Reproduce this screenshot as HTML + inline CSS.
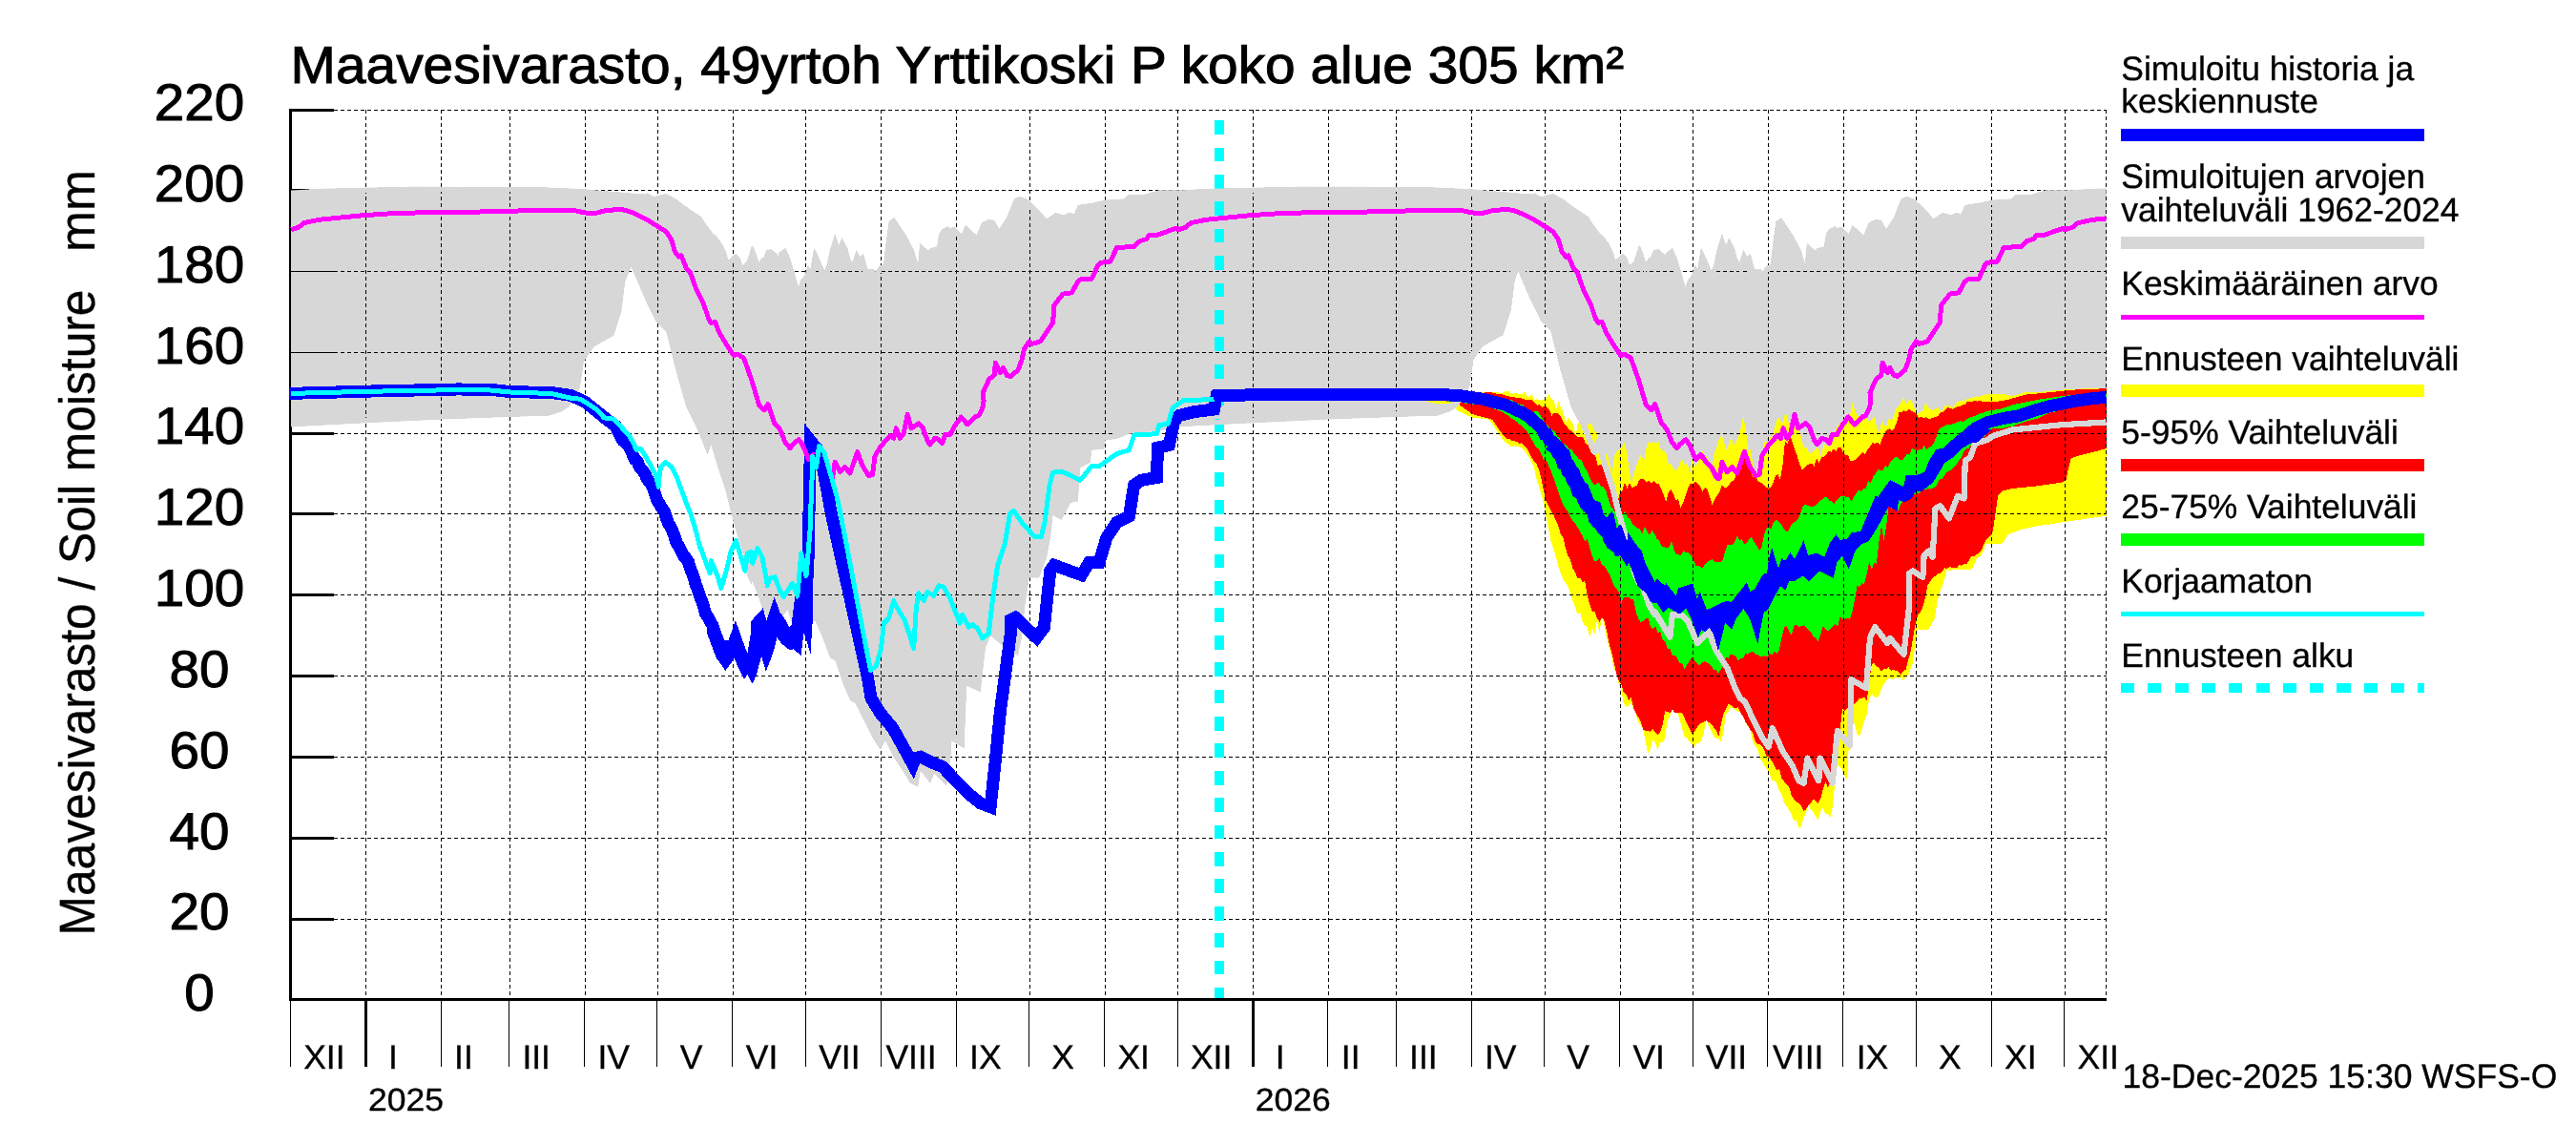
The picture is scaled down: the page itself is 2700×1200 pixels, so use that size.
<!DOCTYPE html>
<html><head><meta charset="utf-8"><title>Maavesivarasto</title>
<style>html,body{margin:0;padding:0;background:#fff;}body{width:2700px;height:1200px;position:relative;overflow:hidden;font-family:"Liberation Sans",sans-serif;}</style></head>
<body>
<svg width="2700" height="1200" viewBox="0 0 2700 1200" style="position:absolute;left:0;top:0;font-family:'Liberation Sans',sans-serif">
<rect width="2700" height="1200" fill="#fff"/>
<g stroke="#000" stroke-width="3" shape-rendering="crispEdges" fill="none">
<path d="M304.5,114 V1049"/>
<path d="M303,1047.5 H2208.1"/>
<path d="M304.5,963.5 H350"/>
<path d="M304.5,878.5 H350"/>
<path d="M304.5,793.5 H350"/>
<path d="M304.5,708.5 H350"/>
<path d="M304.5,623.5 H350"/>
<path d="M304.5,538.5 H350"/>
<path d="M304.5,454.5 H350"/>
<path d="M304.5,369.5 H350"/>
<path d="M304.5,284.5 H350"/>
<path d="M304.5,199.5 H350"/>
<path d="M304.5,115.5 H350"/>
</g>
<g shape-rendering="crispEdges" stroke="none">
<path fill="#d7d7d7" d="M305.0,199.4 L339.3,197.8 L431.0,195.7 L562.1,196.0 L611.8,198.3 L666.9,203.1 L677.4,203.6 L678.7,202.3 L685.2,206.2 L698.3,203.1 L708.8,208.8 L719.3,216.7 L735.0,227.2 L740.0,235.1 L747.9,245.5 L750.5,247.1 L756.8,255.5 L761.0,264.4 L763.1,271.7 L764.6,271.7 L768.3,268.1 L771.4,266.0 L775.6,270.2 L778.2,278.0 L783.0,273.8 L788.2,257.1 L790.3,260.2 L795.5,274.9 L798.7,270.2 L800.3,270.2 L803.4,262.1 L808.6,261.3 L814.9,266.5 L815.4,269.1 L816.5,264.9 L823.3,260.0 L828.0,270.7 L832.2,284.3 L836.9,301.1 L839.5,293.2 L843.2,289.0 L846.9,278.0 L849.5,282.2 L853.2,260.0 L855.3,263.4 L864.2,283.8 L866.8,277.0 L869.9,262.3 L875.2,245.0 L879.4,257.1 L882.5,249.2 L888.3,260.2 L890.9,270.7 L893.5,274.9 L897.7,262.1 L901.4,269.1 L905.0,266.0 L909.2,281.7 L916.0,282.2 L917.6,284.8 L921.3,279.1 L926.0,277.0 L928.6,255.0 L931.8,231.9 L937.5,228.2 L943.3,237.2 L949.6,246.6 L958.0,262.3 L962.2,277.0 L964.2,255.0 L973.2,262.8 L974.7,260.2 L982.1,258.6 L984.2,245.5 L987.3,240.3 L993.6,237.2 L995.7,239.3 L1000.0,237.7 L1008.0,245.2 L1011.9,236.0 L1023.7,246.5 L1029.0,233.4 L1035.5,230.2 L1042.1,230.8 L1047.3,239.9 L1055.2,228.1 L1063.0,208.5 L1068.3,205.9 L1076.1,208.5 L1086.6,217.7 L1097.1,229.4 L1106.3,222.9 L1115.4,225.5 L1120.7,222.9 L1125.9,224.2 L1129.8,215.0 L1146.9,212.4 L1157.4,209.8 L1178.3,208.5 L1182.3,204.5 L1199.3,204.0 L1215.0,199.3 L1234.7,199.3 L1234.7,199.4 L1269.0,197.8 L1360.7,195.7 L1491.8,196.0 L1541.5,198.3 L1596.6,203.1 L1607.1,203.6 L1608.4,202.3 L1614.9,206.2 L1628.0,203.1 L1638.5,208.8 L1649.0,216.7 L1664.7,227.2 L1669.7,235.1 L1677.6,245.5 L1680.2,247.1 L1686.5,255.5 L1690.7,264.4 L1692.8,271.7 L1694.3,271.7 L1698.0,268.1 L1701.1,266.0 L1705.3,270.2 L1707.9,278.0 L1712.7,273.8 L1717.9,257.1 L1720.0,260.2 L1725.2,274.9 L1728.4,270.2 L1730.0,270.2 L1733.1,262.1 L1738.3,261.3 L1744.6,266.5 L1745.1,269.1 L1746.2,264.9 L1753.0,260.0 L1757.7,270.7 L1761.9,284.3 L1766.6,301.1 L1769.2,293.2 L1772.9,289.0 L1776.6,278.0 L1779.2,282.2 L1782.9,260.0 L1785.0,263.4 L1793.9,283.8 L1796.5,277.0 L1799.6,262.3 L1804.9,245.0 L1809.1,257.1 L1812.2,249.2 L1818.0,260.2 L1820.6,270.7 L1823.2,274.9 L1827.4,262.1 L1831.1,269.1 L1834.7,266.0 L1838.9,281.7 L1845.7,282.2 L1847.3,284.8 L1851.0,279.1 L1855.7,277.0 L1858.3,255.0 L1861.5,231.9 L1867.2,228.2 L1873.0,237.2 L1879.3,246.6 L1887.7,262.3 L1891.9,277.0 L1893.9,255.0 L1902.9,262.8 L1904.4,260.2 L1911.8,258.6 L1913.9,245.5 L1917.0,240.3 L1923.3,237.2 L1925.4,239.3 L1929.7,237.7 L1937.7,245.2 L1941.6,236.0 L1953.4,246.5 L1958.7,233.4 L1965.2,230.2 L1971.8,230.8 L1977.0,239.9 L1984.9,228.1 L1992.7,208.5 L1998.0,205.9 L2005.8,208.5 L2016.3,217.7 L2026.8,229.4 L2036.0,222.9 L2045.1,225.5 L2050.4,222.9 L2055.6,224.2 L2059.5,215.0 L2076.6,212.4 L2087.1,209.8 L2108.0,208.5 L2112.0,204.5 L2129.0,204.0 L2144.7,199.3 L2164.4,199.3 L2164.4,199.4 L2198.7,197.8 L2207.6,197.6 L2207.6,445.0 L2164.4,447.3 L2164.4,448.1 L2139.3,452.1 L2113.1,454.7 L2100.0,459.9 L2088.2,461.2 L2086.9,470.4 L2073.8,471.7 L2072.5,484.8 L2062.0,490.1 L2059.4,525.4 L2051.6,526.8 L2042.4,545.1 L2033.2,539.9 L2030.6,563.4 L2026.7,584.4 L2018.8,605.4 L2008.3,605.4 L2004.4,631.6 L2000.5,668.3 L1996.6,687.2 L1980.9,676.7 L1967.8,666.2 L1962.5,679.3 L1957.3,725.2 L1942.9,718.6 L1940.2,784.1 L1927.1,776.3 L1925.8,797.2 L1921.9,823.4 L1908.8,810.3 L1904.9,820.8 L1894.4,807.7 L1891.8,824.7 L1883.9,820.8 L1876.0,807.7 L1865.5,792.0 L1857.7,776.3 L1852.4,785.4 L1844.6,773.6 L1834.1,752.7 L1826.2,737.0 L1821.0,734.3 L1813.1,716.0 L1805.3,692.4 L1800.0,689.8 L1792.2,668.8 L1784.3,650.5 L1781.3,650.6 L1759.0,650.6 L1755.1,638.8 L1747.2,650.6 L1739.3,655.8 L1728.9,637.5 L1718.4,608.7 L1717.1,612.6 L1713.1,603.4 L1707.9,577.2 L1702.7,561.5 L1697.4,543.2 L1689.6,511.7 L1681.7,488.1 L1675.1,465.9 L1671.2,476.3 L1659.5,447.3 L1649.0,426.3 L1638.5,389.6 L1628.0,347.7 L1617.5,337.2 L1607.1,316.3 L1591.3,279.6 L1584.8,295.3 L1580.9,326.8 L1573.0,351.6 L1552.0,363.4 L1541.5,379.2 L1537.6,405.4 L1533.7,415.8 L1525.8,426.3 L1518.0,431.6 L1504.9,435.5 L1465.5,436.8 L1392.2,439.4 L1308.3,443.4 L1234.7,447.3 L1234.7,448.1 L1209.6,452.1 L1183.4,454.7 L1170.3,459.9 L1158.5,461.2 L1157.2,470.4 L1144.1,471.7 L1142.8,484.8 L1132.3,490.1 L1129.7,525.4 L1121.9,526.8 L1112.7,545.1 L1103.5,539.9 L1100.9,563.4 L1097.0,584.4 L1089.1,605.4 L1078.6,605.4 L1074.7,631.6 L1070.8,668.3 L1066.9,687.2 L1051.2,676.7 L1038.1,666.2 L1032.8,679.3 L1027.6,725.2 L1013.2,718.6 L1010.5,784.1 L997.4,776.3 L996.1,797.2 L992.2,823.4 L979.1,810.3 L975.2,820.8 L964.7,807.7 L962.1,824.7 L954.2,820.8 L946.3,807.7 L935.8,792.0 L928.0,776.3 L922.7,785.4 L914.9,773.6 L904.4,752.7 L896.5,737.0 L891.3,734.3 L883.4,716.0 L875.6,692.4 L870.3,689.8 L862.5,668.8 L854.6,650.5 L851.6,650.6 L829.3,650.6 L825.4,638.8 L817.5,650.6 L809.6,655.8 L799.2,637.5 L788.7,608.7 L787.4,612.6 L783.4,603.4 L778.2,577.2 L773.0,561.5 L767.7,543.2 L759.9,511.7 L752.0,488.1 L745.4,465.9 L741.5,476.3 L729.8,447.3 L719.3,426.3 L708.8,389.6 L698.3,347.7 L687.8,337.2 L677.4,316.3 L661.6,279.6 L655.1,295.3 L651.2,326.8 L643.3,351.6 L622.3,363.4 L611.8,379.2 L607.9,405.4 L604.0,415.8 L596.1,426.3 L588.3,431.6 L575.2,435.5 L535.8,436.8 L462.5,439.4 L378.6,443.4 L305.0,447.3Z"/>
<path fill="#ffff00" d="M1455.0,413.2 L1554.7,411.2 L1557.2,411.2 L1559.8,411.2 L1562.3,411.2 L1564.9,411.2 L1567.4,411.1 L1570.0,411.1 L1572.5,412.3 L1575.1,411.4 L1577.6,410.4 L1580.2,409.7 L1582.7,411.2 L1585.2,412.7 L1587.8,412.2 L1590.3,412.0 L1592.9,413.5 L1595.4,413.4 L1598.0,410.6 L1600.5,415.0 L1603.1,415.8 L1605.6,412.7 L1608.2,419.1 L1610.7,418.4 L1613.3,418.9 L1615.8,419.4 L1618.4,419.0 L1620.9,417.3 L1623.5,413.1 L1626.0,418.2 L1628.5,418.9 L1631.1,429.6 L1633.6,421.1 L1636.2,427.5 L1638.7,433.1 L1641.3,442.4 L1643.8,437.2 L1646.4,440.7 L1648.9,444.2 L1651.5,456.3 L1654.0,442.3 L1656.6,443.4 L1659.1,453.0 L1661.7,456.4 L1664.2,445.3 L1666.8,443.5 L1669.3,446.2 L1671.8,453.1 L1674.4,453.6 L1676.9,479.0 L1679.5,481.7 L1682.0,477.0 L1684.6,475.6 L1687.1,485.3 L1689.7,495.5 L1692.2,477.7 L1694.8,472.2 L1697.3,471.4 L1699.9,469.0 L1702.4,463.3 L1705.0,472.8 L1707.5,491.0 L1710.0,506.9 L1712.6,495.4 L1715.1,487.8 L1717.7,481.2 L1720.2,475.1 L1722.8,485.0 L1725.3,470.9 L1727.9,462.7 L1730.4,464.5 L1733.0,463.1 L1735.5,465.2 L1738.1,461.7 L1740.6,470.5 L1743.2,472.7 L1745.7,472.4 L1748.3,484.9 L1750.8,486.2 L1753.3,488.5 L1755.9,493.4 L1758.4,491.5 L1761.0,484.5 L1763.5,481.6 L1766.1,488.4 L1768.6,484.0 L1771.2,497.1 L1773.7,480.6 L1776.3,489.6 L1778.8,485.9 L1781.4,476.2 L1783.9,471.6 L1786.5,476.9 L1789.0,478.4 L1791.6,482.2 L1794.1,493.9 L1796.6,475.2 L1799.2,469.0 L1801.7,460.6 L1804.3,454.8 L1806.8,462.9 L1809.4,470.8 L1811.9,466.0 L1814.5,457.6 L1817.0,466.5 L1819.6,464.1 L1822.1,456.9 L1824.7,448.5 L1827.2,435.7 L1829.8,449.8 L1832.3,471.6 L1834.9,470.5 L1837.4,487.2 L1839.9,494.3 L1842.5,499.8 L1845.0,478.6 L1847.6,473.5 L1850.1,459.9 L1852.7,465.5 L1855.2,458.0 L1857.8,458.1 L1860.3,446.6 L1862.9,439.0 L1865.4,437.5 L1868.0,444.8 L1870.5,435.1 L1873.1,434.6 L1875.6,447.1 L1878.2,436.8 L1880.7,443.0 L1883.2,436.4 L1885.8,449.3 L1888.3,461.1 L1890.9,468.6 L1893.4,468.3 L1896.0,473.7 L1898.5,475.4 L1901.1,472.5 L1903.6,469.0 L1906.2,470.0 L1908.7,478.8 L1911.3,466.3 L1913.8,466.7 L1916.4,468.3 L1918.9,455.6 L1921.5,458.4 L1924.0,450.4 L1926.5,445.8 L1929.1,442.7 L1931.6,444.8 L1934.2,439.1 L1936.7,435.6 L1939.3,433.7 L1941.8,420.9 L1944.4,431.2 L1946.9,435.7 L1949.5,435.5 L1952.0,436.5 L1954.6,437.0 L1957.1,438.9 L1959.7,442.4 L1962.2,439.7 L1964.7,436.4 L1967.3,448.1 L1969.8,453.8 L1972.4,441.1 L1974.9,446.3 L1977.5,445.6 L1980.0,436.8 L1982.6,441.9 L1985.1,434.7 L1987.7,427.9 L1990.2,425.7 L1992.8,421.7 L1995.3,415.9 L1997.9,424.6 L2000.4,419.7 L2003.0,418.9 L2005.5,424.2 L2008.0,430.5 L2010.6,433.3 L2013.1,431.6 L2015.7,430.1 L2018.2,422.2 L2020.8,426.5 L2023.3,429.2 L2025.9,429.6 L2028.4,429.0 L2031.0,426.2 L2033.5,430.7 L2036.1,430.0 L2038.6,425.0 L2041.2,425.2 L2043.7,425.2 L2046.3,426.7 L2048.8,424.6 L2051.3,420.8 L2053.9,420.5 L2056.4,420.0 L2059.0,420.2 L2061.5,418.1 L2064.1,417.7 L2066.6,417.2 L2069.2,416.0 L2071.7,415.1 L2074.3,415.7 L2076.8,414.7 L2079.4,414.0 L2081.9,413.5 L2084.5,413.3 L2087.0,413.4 L2089.6,412.9 L2092.1,412.8 L2094.6,412.5 L2097.2,412.5 L2099.7,413.0 L2102.3,413.6 L2104.8,414.1 L2107.4,414.6 L2109.9,414.9 L2112.5,414.1 L2115.0,413.4 L2117.6,412.6 L2120.1,411.8 L2122.7,411.1 L2125.2,411.1 L2127.8,411.1 L2130.3,411.1 L2132.9,411.1 L2135.4,411.1 L2137.9,410.9 L2140.5,410.6 L2143.0,410.4 L2145.6,410.1 L2148.1,409.8 L2150.7,409.6 L2153.2,409.3 L2155.8,409.1 L2158.3,408.8 L2160.9,408.6 L2163.4,408.4 L2166.0,408.3 L2168.5,408.1 L2171.1,408.0 L2173.6,407.9 L2176.2,407.8 L2178.7,407.6 L2181.2,407.5 L2183.8,407.4 L2186.3,407.2 L2188.9,407.1 L2191.4,407.1 L2194.0,407.0 L2196.5,406.9 L2199.1,406.9 L2201.6,406.8 L2204.2,406.7 L2206.7,406.6 L2207.5,406.6 L2207.5,540.7 L2206.1,540.9 L2203.6,541.3 L2201.0,541.6 L2198.5,542.0 L2195.9,542.3 L2193.4,542.7 L2190.8,543.0 L2188.3,543.3 L2185.7,543.7 L2183.2,544.1 L2180.7,544.5 L2178.1,544.9 L2175.6,545.3 L2173.0,545.6 L2170.5,546.0 L2167.9,546.4 L2165.4,546.8 L2162.8,547.2 L2160.3,547.5 L2157.7,547.9 L2155.2,548.3 L2152.6,548.7 L2150.1,549.1 L2147.5,549.5 L2145.0,549.8 L2142.4,550.2 L2139.9,550.6 L2137.4,551.0 L2134.8,551.4 L2132.3,552.0 L2129.7,552.5 L2127.2,553.1 L2124.6,553.6 L2122.1,554.2 L2119.5,554.7 L2117.0,555.3 L2114.4,556.4 L2111.9,557.4 L2109.3,558.4 L2106.8,559.4 L2104.2,560.5 L2101.7,565.0 L2099.1,569.4 L2096.6,569.6 L2094.1,569.6 L2091.5,569.6 L2089.0,569.6 L2086.4,569.6 L2083.9,569.6 L2081.3,569.7 L2078.8,577.9 L2076.2,582.8 L2073.7,584.3 L2071.1,586.8 L2068.6,594.1 L2066.0,596.9 L2063.5,596.6 L2060.9,596.8 L2058.4,597.5 L2055.8,597.3 L2053.3,596.5 L2050.8,596.7 L2048.2,597.3 L2045.7,597.5 L2043.1,598.1 L2040.6,596.6 L2038.0,606.9 L2035.5,614.9 L2032.9,621.6 L2030.4,630.5 L2027.8,648.9 L2025.3,652.7 L2022.7,657.2 L2020.2,660.1 L2017.6,659.9 L2015.1,659.9 L2012.5,660.4 L2010.0,659.2 L2007.5,673.9 L2004.9,694.9 L2002.4,701.3 L1999.8,708.6 L1997.3,710.1 L1994.7,712.8 L1992.2,709.1 L1989.6,710.9 L1987.1,710.4 L1984.5,712.1 L1982.0,710.8 L1979.4,711.1 L1976.9,713.4 L1974.3,717.8 L1971.8,722.3 L1969.3,729.8 L1966.7,731.6 L1964.2,729.8 L1961.6,727.8 L1959.1,733.6 L1956.5,749.3 L1954.0,754.9 L1951.4,764.8 L1948.9,772.2 L1946.3,768.3 L1943.8,757.9 L1941.2,755.5 L1938.7,762.4 L1936.1,817.2 L1933.6,813.2 L1931.0,807.0 L1928.5,804.4 L1926.0,801.9 L1923.4,820.4 L1920.9,844.8 L1918.3,857.5 L1915.8,852.5 L1913.2,852.7 L1910.7,846.6 L1908.1,850.7 L1905.6,859.1 L1903.0,855.8 L1900.5,851.2 L1897.9,848.6 L1895.4,843.6 L1892.8,852.0 L1890.3,857.0 L1887.7,866.9 L1885.2,867.8 L1882.7,859.4 L1880.1,860.4 L1877.6,852.7 L1875.0,848.9 L1872.5,844.8 L1869.9,841.5 L1867.4,832.4 L1864.8,828.3 L1862.3,821.7 L1859.7,817.7 L1857.2,817.6 L1854.6,811.2 L1852.1,806.3 L1849.5,803.1 L1847.0,798.6 L1844.4,793.7 L1841.9,784.4 L1839.4,782.0 L1836.8,776.3 L1834.3,764.0 L1831.7,761.8 L1829.2,755.8 L1826.6,750.3 L1824.1,746.1 L1821.5,745.6 L1819.0,744.6 L1816.4,742.4 L1813.9,741.4 L1811.3,746.4 L1808.8,748.6 L1806.2,769.3 L1803.7,777.2 L1801.1,773.6 L1798.6,773.6 L1796.1,771.2 L1793.5,766.2 L1791.0,761.1 L1788.4,754.5 L1785.9,767.5 L1783.3,775.9 L1780.8,778.5 L1778.2,779.3 L1775.7,783.1 L1773.1,779.5 L1770.6,777.0 L1768.0,773.9 L1765.5,771.9 L1762.9,762.9 L1760.4,753.7 L1757.8,746.4 L1755.3,746.9 L1752.8,743.5 L1750.2,750.7 L1747.7,755.5 L1745.1,773.4 L1742.6,778.5 L1740.0,777.5 L1737.5,786.1 L1734.9,778.2 L1732.4,774.5 L1729.8,785.4 L1727.3,789.6 L1724.7,776.6 L1722.2,764.0 L1719.6,760.6 L1717.1,756.9 L1714.6,747.3 L1712.0,741.9 L1709.5,736.5 L1706.9,739.6 L1704.4,740.8 L1701.8,737.2 L1699.3,723.3 L1696.7,717.2 L1694.2,705.5 L1691.6,700.7 L1689.1,687.9 L1686.5,678.1 L1684.0,668.4 L1681.4,655.5 L1678.9,646.3 L1676.3,663.7 L1673.8,649.9 L1671.3,665.0 L1668.7,657.8 L1666.2,668.4 L1663.6,657.2 L1661.1,655.6 L1658.5,651.1 L1656.0,641.5 L1653.4,643.5 L1650.9,635.3 L1648.3,629.9 L1645.8,621.5 L1643.2,614.2 L1640.7,610.5 L1638.1,607.2 L1635.6,599.9 L1633.0,592.0 L1630.5,582.8 L1628.0,574.0 L1625.4,566.4 L1622.9,552.1 L1620.3,541.1 L1617.8,526.8 L1615.2,517.7 L1612.7,508.7 L1610.1,500.9 L1607.6,488.9 L1605.0,484.0 L1602.5,478.8 L1599.9,475.7 L1597.4,471.7 L1594.8,469.2 L1592.3,467.9 L1589.7,468.3 L1587.2,467.3 L1584.7,468.3 L1582.1,466.7 L1579.6,464.6 L1577.0,462.7 L1574.5,459.6 L1571.9,456.7 L1569.4,451.9 L1566.8,448.4 L1564.3,444.8 L1561.7,441.1 L1559.2,439.3 L1556.6,439.0 L1554.1,438.8 L1551.5,438.5 L1549.0,438.2 L1546.4,438.0 L1543.9,437.7 L1541.4,436.9 L1538.8,435.7 L1536.3,434.6 L1533.7,433.4 L1531.2,432.3 L1528.6,430.6 L1526.1,428.9 L1523.5,427.0 L1521.0,425.0 L1518.4,423.1 L1515.9,423.0 L1513.3,422.9 L1510.8,422.8 L1508.2,422.7 L1505.7,422.6 L1503.1,422.5 L1500.6,422.1 L1498.1,421.5 L1495.5,420.8 L1493.0,420.2Z"/>
<path fill="#ff0000" d="M1455.0,413.2 L1562.8,411.4 L1565.4,411.7 L1567.9,412.4 L1570.5,412.9 L1573.0,412.7 L1575.6,414.0 L1578.1,414.5 L1580.7,415.1 L1583.2,416.3 L1585.8,415.5 L1588.3,416.7 L1590.9,417.4 L1593.4,417.0 L1595.9,418.1 L1598.5,418.6 L1601.0,419.5 L1603.6,419.4 L1606.1,419.1 L1608.7,422.1 L1611.2,424.6 L1613.8,424.0 L1616.3,426.7 L1618.9,426.2 L1621.4,426.4 L1624.0,429.6 L1626.5,435.6 L1629.1,432.7 L1631.6,432.8 L1634.2,434.3 L1636.7,438.2 L1639.2,443.3 L1641.8,446.2 L1644.3,450.2 L1646.9,451.6 L1649.4,454.1 L1652.0,456.8 L1654.5,458.1 L1657.1,457.4 L1659.6,458.9 L1662.2,465.2 L1664.7,466.1 L1667.3,473.7 L1669.8,472.4 L1672.4,478.8 L1674.9,488.4 L1677.4,486.6 L1680.0,487.5 L1682.5,495.3 L1685.1,500.5 L1687.6,507.1 L1690.2,514.0 L1692.7,518.7 L1695.3,527.2 L1697.8,516.7 L1700.4,514.0 L1702.9,506.1 L1705.5,511.5 L1708.0,505.8 L1710.6,510.8 L1713.1,510.3 L1715.7,508.8 L1718.2,502.7 L1720.7,501.7 L1723.3,502.6 L1725.8,504.9 L1728.4,504.0 L1730.9,506.6 L1733.5,503.5 L1736.0,506.7 L1738.6,507.2 L1741.1,512.5 L1743.7,518.6 L1746.2,526.2 L1748.8,516.0 L1751.3,513.0 L1753.9,517.2 L1756.4,524.2 L1759.0,523.2 L1761.5,532.5 L1764.0,526.9 L1766.6,519.9 L1769.1,511.8 L1771.7,506.7 L1774.2,507.3 L1776.8,504.8 L1779.3,507.2 L1781.9,509.2 L1784.4,515.2 L1787.0,510.8 L1789.5,513.2 L1792.1,520.4 L1794.6,528.9 L1797.2,523.3 L1799.7,519.5 L1802.3,515.6 L1804.8,508.2 L1807.3,510.8 L1809.9,510.8 L1812.4,507.8 L1815.0,503.9 L1817.5,503.3 L1820.1,496.9 L1822.6,488.4 L1825.2,482.9 L1827.7,471.7 L1830.3,477.6 L1832.8,490.6 L1835.4,496.3 L1837.9,500.2 L1840.5,499.6 L1843.0,505.1 L1845.6,505.7 L1848.1,507.7 L1850.6,510.4 L1853.2,511.8 L1855.7,511.2 L1858.3,506.9 L1860.8,498.6 L1863.4,497.2 L1865.9,502.8 L1868.5,486.8 L1871.0,462.7 L1873.6,464.9 L1876.1,456.7 L1878.7,463.6 L1881.2,471.0 L1883.8,478.3 L1886.3,486.6 L1888.9,492.8 L1891.4,490.3 L1893.9,487.8 L1896.5,486.2 L1899.0,485.8 L1901.6,488.6 L1904.1,479.8 L1906.7,485.0 L1909.2,479.1 L1911.8,478.8 L1914.3,475.8 L1916.9,472.6 L1919.4,473.8 L1922.0,470.3 L1924.5,472.7 L1927.1,468.5 L1929.6,468.6 L1932.1,475.4 L1934.7,477.0 L1937.2,477.7 L1939.8,483.5 L1942.3,482.7 L1944.9,481.7 L1947.4,478.7 L1950.0,477.0 L1952.5,473.8 L1955.1,476.0 L1957.6,470.6 L1960.2,467.8 L1962.7,463.7 L1965.3,465.4 L1967.8,463.4 L1970.4,465.9 L1972.9,459.4 L1975.4,453.7 L1978.0,449.8 L1980.5,449.4 L1983.1,451.8 L1985.6,448.4 L1988.2,442.8 L1990.7,431.6 L1993.3,432.3 L1995.8,430.2 L1998.4,431.5 L2000.9,428.5 L2003.5,430.7 L2006.0,432.2 L2008.6,433.8 L2011.1,438.1 L2013.7,436.6 L2016.2,438.2 L2018.7,437.0 L2021.3,439.0 L2023.8,438.7 L2026.4,437.6 L2028.9,437.3 L2031.5,435.7 L2034.0,432.2 L2036.6,431.7 L2039.1,430.0 L2041.7,426.4 L2044.2,428.2 L2046.8,428.7 L2049.3,427.5 L2051.9,426.1 L2054.4,426.1 L2057.0,424.3 L2059.5,423.7 L2062.0,420.8 L2064.6,421.4 L2067.1,420.8 L2069.7,420.2 L2072.2,420.6 L2074.8,420.0 L2077.3,420.7 L2079.9,421.3 L2082.4,421.1 L2085.0,421.2 L2087.5,421.5 L2090.1,421.3 L2092.6,420.9 L2095.2,420.5 L2097.7,420.0 L2100.3,419.6 L2102.8,419.2 L2105.3,418.6 L2107.9,417.9 L2110.4,417.2 L2113.0,416.5 L2115.5,415.7 L2118.1,415.0 L2120.6,414.3 L2123.2,413.6 L2125.7,413.4 L2128.3,413.1 L2130.8,412.9 L2133.4,412.6 L2135.9,412.4 L2138.5,412.1 L2141.0,411.9 L2143.6,411.6 L2146.1,411.4 L2148.6,411.1 L2151.2,410.8 L2153.7,410.6 L2156.3,410.3 L2158.8,410.1 L2161.4,409.8 L2163.9,409.6 L2166.5,409.3 L2169.0,409.1 L2171.6,408.8 L2174.1,408.6 L2176.7,408.4 L2179.2,408.3 L2181.8,408.2 L2184.3,408.1 L2186.8,408.0 L2189.4,407.9 L2191.9,407.8 L2194.5,407.7 L2197.0,407.6 L2199.6,407.5 L2202.1,407.4 L2204.7,407.3 L2207.2,407.2 L2207.5,407.2 L2207.5,470.0 L2206.3,470.4 L2203.7,471.1 L2201.2,471.8 L2198.6,472.5 L2196.1,473.2 L2193.5,473.9 L2191.0,474.5 L2188.4,475.2 L2185.9,475.8 L2183.3,476.5 L2180.8,477.1 L2178.3,477.7 L2175.7,478.5 L2173.2,479.4 L2170.6,480.2 L2168.1,490.4 L2165.5,503.0 L2163.0,504.7 L2160.4,505.6 L2157.9,506.0 L2155.3,506.4 L2152.8,506.8 L2150.2,507.1 L2147.7,507.5 L2145.1,507.9 L2142.6,508.3 L2140.0,508.7 L2137.5,509.1 L2135.0,509.4 L2132.4,509.6 L2129.9,509.9 L2127.3,510.2 L2124.8,510.4 L2122.2,510.7 L2119.7,510.9 L2117.1,511.2 L2114.6,511.4 L2112.0,511.7 L2109.5,512.0 L2106.9,512.6 L2104.4,513.2 L2101.8,513.9 L2099.3,514.5 L2096.8,516.9 L2094.2,519.4 L2091.7,536.2 L2089.1,555.3 L2086.6,561.1 L2084.0,563.3 L2081.5,566.3 L2078.9,571.5 L2076.4,577.6 L2073.8,580.2 L2071.3,581.5 L2068.7,583.2 L2066.2,582.5 L2063.6,587.7 L2061.1,591.4 L2058.5,590.7 L2056.0,592.9 L2053.5,591.6 L2050.9,595.6 L2048.4,594.5 L2045.8,594.6 L2043.3,594.1 L2040.7,596.0 L2038.2,595.1 L2035.6,599.4 L2033.1,600.8 L2030.5,601.7 L2028.0,604.0 L2025.4,605.9 L2022.9,609.9 L2020.3,613.4 L2017.8,627.4 L2015.2,636.5 L2012.7,642.0 L2010.2,644.7 L2007.6,654.1 L2005.1,668.3 L2002.5,683.4 L2000.0,691.9 L1997.4,702.0 L1994.9,703.1 L1992.3,706.9 L1989.8,703.6 L1987.2,702.9 L1984.7,701.7 L1982.1,703.0 L1979.6,699.4 L1977.0,701.2 L1974.5,700.9 L1971.9,703.8 L1969.4,700.1 L1966.9,698.3 L1964.3,695.0 L1961.8,696.0 L1959.2,713.3 L1956.7,734.7 L1954.1,730.1 L1951.6,731.9 L1949.0,731.7 L1946.5,735.3 L1943.9,737.2 L1941.4,744.0 L1938.8,741.7 L1936.3,742.2 L1933.7,745.0 L1931.2,742.5 L1928.6,765.2 L1926.1,779.5 L1923.6,800.9 L1921.0,819.7 L1918.5,819.9 L1915.9,825.5 L1913.4,819.8 L1910.8,826.7 L1908.3,836.8 L1905.7,841.7 L1903.2,839.9 L1900.6,837.6 L1898.1,841.3 L1895.5,843.9 L1893.0,848.2 L1890.4,850.0 L1887.9,844.1 L1885.3,841.3 L1882.8,840.5 L1880.3,837.4 L1877.7,833.2 L1875.2,825.0 L1872.6,822.1 L1870.1,819.2 L1867.5,815.9 L1865.0,806.0 L1862.4,806.9 L1859.9,803.1 L1857.3,797.9 L1854.8,793.8 L1852.2,793.1 L1849.7,787.9 L1847.1,782.1 L1844.6,779.9 L1842.1,779.6 L1839.5,776.4 L1837.0,767.5 L1834.4,764.7 L1831.9,760.4 L1829.3,756.2 L1826.8,750.6 L1824.2,746.4 L1821.7,741.4 L1819.1,742.3 L1816.6,741.3 L1814.0,739.0 L1811.5,737.7 L1808.9,743.4 L1806.4,748.5 L1803.8,759.4 L1801.3,772.1 L1798.8,765.6 L1796.2,762.1 L1793.7,759.1 L1791.1,757.0 L1788.6,754.9 L1786.0,756.5 L1783.5,757.8 L1780.9,759.1 L1778.4,763.0 L1775.8,767.1 L1773.3,769.4 L1770.7,762.9 L1768.2,758.6 L1765.6,752.7 L1763.1,746.6 L1760.5,747.2 L1758.0,746.9 L1755.5,746.8 L1752.9,743.7 L1750.4,747.5 L1747.8,745.7 L1745.3,745.4 L1742.7,759.0 L1740.2,767.5 L1737.6,769.6 L1735.1,767.4 L1732.5,764.4 L1730.0,766.8 L1727.4,765.6 L1724.9,766.3 L1722.3,764.8 L1719.8,756.1 L1717.2,751.9 L1714.7,747.2 L1712.2,742.2 L1709.6,730.8 L1707.1,734.3 L1704.5,727.5 L1702.0,726.1 L1699.4,717.6 L1696.9,714.4 L1694.3,706.2 L1691.8,694.9 L1689.2,683.3 L1686.7,675.3 L1684.1,661.1 L1681.6,651.3 L1679.0,646.8 L1676.5,651.6 L1673.9,648.4 L1671.4,640.5 L1668.9,641.5 L1666.3,633.2 L1663.8,625.1 L1661.2,608.8 L1658.7,610.6 L1656.1,605.3 L1653.6,606.2 L1651.0,599.8 L1648.5,595.5 L1645.9,587.1 L1643.4,582.4 L1640.8,573.9 L1638.3,563.1 L1635.7,559.3 L1633.2,550.8 L1630.6,545.6 L1628.1,539.4 L1625.6,535.2 L1623.0,530.5 L1620.5,524.8 L1617.9,513.8 L1615.4,501.2 L1612.8,491.2 L1610.3,486.0 L1607.7,483.7 L1605.2,479.0 L1602.6,474.0 L1600.1,469.7 L1597.5,466.8 L1595.0,464.3 L1592.4,465.3 L1589.9,462.7 L1587.4,462.4 L1584.8,461.8 L1582.3,459.7 L1579.7,459.8 L1577.2,458.3 L1574.6,454.7 L1572.1,451.6 L1569.5,447.9 L1567.0,444.0 L1564.4,440.1 L1561.9,438.9 L1559.3,438.2 L1556.8,437.6 L1554.2,437.0 L1551.7,436.3 L1549.1,435.7 L1546.6,435.0 L1544.1,434.4 L1541.5,433.0 L1539.0,431.1 L1536.4,429.2 L1533.9,427.3 L1531.3,425.5 L1528.8,423.7 L1526.2,422.7 L1523.7,422.0 L1521.1,421.4 L1518.6,420.8Z"/>
<path fill="#00ff00" d="M1455.0,413.2 L1583.8,418.8 L1586.3,420.7 L1588.9,421.7 L1591.4,423.2 L1594.0,424.2 L1596.5,424.4 L1599.1,429.6 L1601.6,429.2 L1604.2,430.4 L1606.7,431.7 L1609.3,431.4 L1611.8,430.6 L1614.4,435.1 L1616.9,438.9 L1619.5,444.0 L1622.0,445.3 L1624.5,449.0 L1627.1,450.6 L1629.6,452.4 L1632.2,457.5 L1634.7,458.8 L1637.3,464.6 L1639.8,465.3 L1642.4,467.2 L1644.9,470.5 L1647.5,470.5 L1650.0,475.7 L1652.6,478.3 L1655.1,481.4 L1657.7,481.8 L1660.2,488.4 L1662.8,492.6 L1665.3,498.1 L1667.8,503.5 L1670.4,507.9 L1672.9,507.8 L1675.5,505.5 L1678.0,510.1 L1680.6,510.4 L1683.1,513.6 L1685.7,522.6 L1688.2,530.3 L1690.8,533.2 L1693.3,537.9 L1695.9,539.9 L1698.4,538.9 L1701.0,539.1 L1703.5,536.3 L1706.1,542.5 L1708.6,543.7 L1711.1,549.6 L1713.7,550.7 L1716.2,553.8 L1718.8,554.4 L1721.3,559.2 L1723.9,551.4 L1726.4,557.3 L1729.0,560.4 L1731.5,556.3 L1734.1,559.2 L1736.6,565.0 L1739.2,566.3 L1741.7,572.4 L1744.3,573.3 L1746.8,574.6 L1749.4,573.5 L1751.9,566.8 L1754.4,575.3 L1757.0,581.2 L1759.5,581.1 L1762.1,582.2 L1764.6,577.0 L1767.2,579.3 L1769.7,579.3 L1772.3,581.9 L1774.8,585.7 L1777.4,592.8 L1779.9,592.9 L1782.5,594.4 L1785.0,594.7 L1787.6,590.8 L1790.1,588.3 L1792.7,587.1 L1795.2,586.1 L1797.7,589.4 L1800.3,589.3 L1802.8,589.4 L1805.4,587.8 L1807.9,579.1 L1810.5,571.0 L1813.0,571.1 L1815.6,571.3 L1818.1,568.3 L1820.7,561.9 L1823.2,566.5 L1825.8,565.3 L1828.3,570.5 L1830.9,569.1 L1833.4,564.9 L1835.9,562.4 L1838.5,567.6 L1841.0,571.4 L1843.6,575.8 L1846.1,575.0 L1848.7,561.7 L1851.2,554.4 L1853.8,552.3 L1856.3,554.5 L1858.9,547.1 L1861.4,545.1 L1864.0,546.0 L1866.5,548.7 L1869.1,553.0 L1871.6,556.6 L1874.2,556.6 L1876.7,551.2 L1879.2,548.6 L1881.8,546.4 L1884.3,544.1 L1886.9,539.2 L1889.4,531.2 L1892.0,528.6 L1894.5,529.5 L1897.1,530.7 L1899.6,530.7 L1902.2,530.2 L1904.7,528.1 L1907.3,524.8 L1909.8,524.1 L1912.4,520.5 L1914.9,521.2 L1917.5,524.8 L1920.0,525.4 L1922.5,528.1 L1925.1,524.0 L1927.6,521.7 L1930.2,519.9 L1932.7,519.8 L1935.3,521.2 L1937.8,521.3 L1940.4,525.6 L1942.9,521.2 L1945.5,517.4 L1948.0,513.7 L1950.6,514.6 L1953.1,512.5 L1955.7,511.7 L1958.2,503.9 L1960.8,506.1 L1963.3,499.5 L1965.8,496.2 L1968.4,492.3 L1970.9,492.6 L1973.5,492.7 L1976.0,487.8 L1978.6,489.9 L1981.1,484.7 L1983.7,482.0 L1986.2,479.0 L1988.8,479.2 L1991.3,481.6 L1993.9,482.6 L1996.4,479.3 L1999.0,475.8 L2001.5,476.9 L2004.1,469.8 L2006.6,471.2 L2009.1,471.9 L2011.7,471.3 L2014.2,471.0 L2016.8,466.9 L2019.3,471.1 L2021.9,469.1 L2024.4,467.9 L2027.0,464.5 L2029.5,457.6 L2032.1,450.4 L2034.6,448.2 L2037.2,446.9 L2039.7,445.7 L2042.3,444.8 L2044.8,444.8 L2047.4,444.1 L2049.9,443.1 L2052.4,441.8 L2055.0,441.3 L2057.5,441.9 L2060.1,440.1 L2062.6,438.8 L2065.2,437.5 L2067.7,436.8 L2070.3,435.7 L2072.8,434.7 L2075.4,433.3 L2077.9,433.0 L2080.5,431.8 L2083.0,430.8 L2085.6,430.3 L2088.1,429.9 L2090.6,429.5 L2093.2,429.1 L2095.7,428.7 L2098.3,428.2 L2100.8,427.4 L2103.4,426.5 L2105.9,425.5 L2108.5,424.6 L2111.0,423.9 L2113.6,423.4 L2116.1,422.9 L2118.7,422.4 L2121.2,421.8 L2123.8,421.3 L2126.3,420.8 L2128.9,420.3 L2131.4,419.8 L2133.9,419.3 L2136.5,418.8 L2139.0,418.4 L2141.6,418.1 L2144.1,417.7 L2146.7,417.3 L2149.2,416.9 L2151.8,416.5 L2154.3,416.2 L2156.9,415.8 L2159.4,415.4 L2162.0,415.0 L2164.5,414.8 L2167.1,414.5 L2169.6,414.2 L2172.2,414.0 L2174.7,413.7 L2177.2,413.5 L2179.8,413.2 L2182.3,413.0 L2184.9,412.7 L2187.4,412.5 L2190.0,412.3 L2192.5,412.1 L2195.1,411.9 L2197.6,411.7 L2200.2,411.6 L2202.7,411.4 L2205.3,411.2 L2207.5,411.1 L2207.5,421.6 L2206.3,421.7 L2203.7,422.0 L2201.2,422.2 L2198.6,422.5 L2196.1,422.8 L2193.5,423.0 L2191.0,423.3 L2188.4,423.6 L2185.9,423.9 L2183.4,424.1 L2180.8,424.7 L2178.3,425.3 L2175.7,426.0 L2173.2,426.6 L2170.6,427.2 L2168.1,427.9 L2165.5,428.5 L2163.0,429.2 L2160.4,429.8 L2157.9,430.4 L2155.3,431.1 L2152.8,431.7 L2150.2,432.3 L2147.7,433.0 L2145.2,433.9 L2142.6,435.2 L2140.1,436.4 L2137.5,437.7 L2135.0,438.8 L2132.4,439.4 L2129.9,440.1 L2127.3,440.7 L2124.8,441.4 L2122.2,442.2 L2119.7,443.1 L2117.1,443.9 L2114.6,444.8 L2112.0,445.6 L2109.5,446.5 L2106.9,447.1 L2104.4,447.7 L2101.9,448.4 L2099.3,449.0 L2096.8,449.1 L2094.2,449.1 L2091.7,449.1 L2089.1,449.0 L2086.6,451.1 L2084.0,453.7 L2081.5,456.3 L2078.9,458.2 L2076.4,459.9 L2073.8,461.6 L2071.3,462.7 L2068.7,464.9 L2066.2,466.1 L2063.6,469.6 L2061.1,470.0 L2058.6,472.7 L2056.0,479.2 L2053.5,482.4 L2050.9,486.2 L2048.4,489.2 L2045.8,492.0 L2043.3,493.5 L2040.7,494.4 L2038.2,498.7 L2035.6,501.5 L2033.1,501.9 L2030.5,507.0 L2028.0,511.1 L2025.4,511.8 L2022.9,512.7 L2020.3,512.3 L2017.8,513.1 L2015.3,513.1 L2012.7,515.9 L2010.2,517.3 L2007.6,517.9 L2005.1,519.2 L2002.5,519.1 L2000.0,520.9 L1997.4,525.5 L1994.9,525.8 L1992.3,527.7 L1989.8,535.0 L1987.2,532.7 L1984.7,532.4 L1982.1,532.7 L1979.6,530.1 L1977.0,552.9 L1974.5,566.1 L1972.0,550.8 L1969.4,568.2 L1966.9,591.0 L1964.3,589.7 L1961.8,596.9 L1959.2,588.3 L1956.7,601.4 L1954.1,612.1 L1951.6,611.2 L1949.0,614.7 L1946.5,614.2 L1943.9,629.1 L1941.4,641.7 L1938.8,648.8 L1936.3,647.5 L1933.7,648.8 L1931.2,648.8 L1928.7,646.1 L1926.1,656.3 L1923.6,653.8 L1921.0,656.6 L1918.5,659.2 L1915.9,661.5 L1913.4,659.5 L1910.8,656.1 L1908.3,664.5 L1905.7,672.5 L1903.2,668.6 L1900.6,667.2 L1898.1,662.5 L1895.5,659.8 L1893.0,657.0 L1890.5,655.4 L1887.9,656.3 L1885.4,657.4 L1882.8,654.8 L1880.3,656.0 L1877.7,665.7 L1875.2,661.9 L1872.6,656.3 L1870.1,657.5 L1867.5,668.3 L1865.0,680.9 L1862.4,685.4 L1859.9,682.3 L1857.3,686.8 L1854.8,684.2 L1852.2,689.0 L1849.7,686.9 L1847.2,688.6 L1844.6,688.0 L1842.1,686.2 L1839.5,685.3 L1837.0,682.8 L1834.4,683.9 L1831.9,685.6 L1829.3,685.0 L1826.8,690.0 L1824.2,689.8 L1821.7,692.9 L1819.1,687.0 L1816.6,686.3 L1814.0,685.5 L1811.5,689.9 L1808.9,688.2 L1806.4,698.4 L1803.9,700.8 L1801.3,705.7 L1798.8,702.5 L1796.2,702.4 L1793.7,698.1 L1791.1,695.2 L1788.6,694.3 L1786.0,693.1 L1783.5,695.2 L1780.9,697.2 L1778.4,695.0 L1775.8,692.5 L1773.3,688.6 L1770.7,693.2 L1768.2,696.6 L1765.6,701.2 L1763.1,695.3 L1760.6,695.3 L1758.0,689.7 L1755.5,686.6 L1752.9,687.3 L1750.4,680.1 L1747.8,679.4 L1745.3,671.9 L1742.7,671.0 L1740.2,662.0 L1737.6,662.8 L1735.1,656.0 L1732.5,658.9 L1730.0,656.5 L1727.4,647.4 L1724.9,648.8 L1722.3,650.9 L1719.8,652.2 L1717.3,648.7 L1714.7,641.1 L1712.2,628.3 L1709.6,628.3 L1707.1,625.9 L1704.5,626.3 L1702.0,625.5 L1699.4,632.0 L1696.9,620.7 L1694.3,616.7 L1691.8,614.2 L1689.2,607.7 L1686.7,601.3 L1684.1,597.4 L1681.6,593.3 L1679.0,591.9 L1676.5,585.2 L1674.0,587.6 L1671.4,588.4 L1668.9,583.1 L1666.3,574.4 L1663.8,564.9 L1661.2,567.0 L1658.7,561.8 L1656.1,557.1 L1653.6,553.0 L1651.0,548.5 L1648.5,545.8 L1645.9,541.6 L1643.4,536.1 L1640.8,532.8 L1638.3,528.4 L1635.8,522.5 L1633.2,515.2 L1630.7,507.9 L1628.1,500.2 L1625.6,493.3 L1623.0,487.4 L1620.5,482.5 L1617.9,481.4 L1615.4,476.1 L1612.8,470.4 L1610.3,468.9 L1607.7,464.7 L1605.2,460.0 L1602.6,455.5 L1600.1,451.3 L1597.5,449.4 L1595.0,446.0 L1592.5,444.8 L1589.9,441.8 L1587.4,439.9 L1584.8,439.0 L1582.3,437.2 L1579.7,434.6 L1577.2,433.5 L1574.6,431.9 L1572.1,430.9 L1569.5,429.8 L1567.0,428.8 L1564.4,427.6 L1561.9,426.5 L1559.3,425.4Z"/>
</g>
<g stroke="#000" stroke-width="1" shape-rendering="crispEdges" fill="none" stroke-dasharray="4 3">
<path d="M350,963.5 H2207.6"/>
<path d="M350,878.5 H2207.6"/>
<path d="M350,793.5 H2207.6"/>
<path d="M350,708.5 H2207.6"/>
<path d="M350,623.5 H2207.6"/>
<path d="M350,538.5 H2207.6"/>
<path d="M350,454.5 H2207.6"/>
<path d="M350,369.5 H2207.6"/>
<path d="M350,284.5 H2207.6"/>
<path d="M350,199.5 H2207.6"/>
<path d="M350,115.5 H2207.6"/>
<path d="M383.5,115 V1046"/>
<path d="M462.5,115 V1046"/>
<path d="M534.5,115 V1046"/>
<path d="M613.5,115 V1046"/>
<path d="M689.5,115 V1046"/>
<path d="M768.5,115 V1046"/>
<path d="M844.5,115 V1046"/>
<path d="M923.5,115 V1046"/>
<path d="M1002.5,115 V1046"/>
<path d="M1079.5,115 V1046"/>
<path d="M1158.5,115 V1046"/>
<path d="M1234.5,115 V1046"/>
<path d="M1313.5,115 V1046"/>
<path d="M1392.5,115 V1046"/>
<path d="M1463.5,115 V1046"/>
<path d="M1542.5,115 V1046"/>
<path d="M1619.5,115 V1046"/>
<path d="M1698.5,115 V1046"/>
<path d="M1774.5,115 V1046"/>
<path d="M1853.5,115 V1046"/>
<path d="M1932.5,115 V1046"/>
<path d="M2008.5,115 V1046"/>
<path d="M2087.5,115 V1046"/>
<path d="M2164.5,115 V1046"/>
<path d="M2207.5,115 V1046"/>
</g>
<g stroke="#000" stroke-width="1" shape-rendering="crispEdges" fill="none">
<path d="M304,963.5 H350"/>
<path d="M304,878.5 H350"/>
<path d="M304,793.5 H350"/>
<path d="M304,708.5 H350"/>
<path d="M304,623.5 H350"/>
<path d="M304,538.5 H350"/>
<path d="M304,454.5 H350"/>
<path d="M304,369.5 H350"/>
<path d="M304,284.5 H350"/>
<path d="M304,199.5 H350"/>
<path d="M304,115.5 H350"/>
<path d="M303.5,115 V1047"/>
</g>
<g fill="none" stroke-linejoin="round" shape-rendering="crispEdges">
<path stroke="#00ffff" stroke-width="10" stroke-dasharray="14.7 13.7" d="M1278,126.2 V1046"/>
<clipPath id="gc"><path d="M305.0,199.4 L339.3,197.8 L431.0,195.7 L562.1,196.0 L611.8,198.3 L666.9,203.1 L677.4,203.6 L678.7,202.3 L685.2,206.2 L698.3,203.1 L708.8,208.8 L719.3,216.7 L735.0,227.2 L740.0,235.1 L747.9,245.5 L750.5,247.1 L756.8,255.5 L761.0,264.4 L763.1,271.7 L764.6,271.7 L768.3,268.1 L771.4,266.0 L775.6,270.2 L778.2,278.0 L783.0,273.8 L788.2,257.1 L790.3,260.2 L795.5,274.9 L798.7,270.2 L800.3,270.2 L803.4,262.1 L808.6,261.3 L814.9,266.5 L815.4,269.1 L816.5,264.9 L823.3,260.0 L828.0,270.7 L832.2,284.3 L836.9,301.1 L839.5,293.2 L843.2,289.0 L846.9,278.0 L849.5,282.2 L853.2,260.0 L855.3,263.4 L864.2,283.8 L866.8,277.0 L869.9,262.3 L875.2,245.0 L879.4,257.1 L882.5,249.2 L888.3,260.2 L890.9,270.7 L893.5,274.9 L897.7,262.1 L901.4,269.1 L905.0,266.0 L909.2,281.7 L916.0,282.2 L917.6,284.8 L921.3,279.1 L926.0,277.0 L928.6,255.0 L931.8,231.9 L937.5,228.2 L943.3,237.2 L949.6,246.6 L958.0,262.3 L962.2,277.0 L964.2,255.0 L973.2,262.8 L974.7,260.2 L982.1,258.6 L984.2,245.5 L987.3,240.3 L993.6,237.2 L995.7,239.3 L1000.0,237.7 L1008.0,245.2 L1011.9,236.0 L1023.7,246.5 L1029.0,233.4 L1035.5,230.2 L1042.1,230.8 L1047.3,239.9 L1055.2,228.1 L1063.0,208.5 L1068.3,205.9 L1076.1,208.5 L1086.6,217.7 L1097.1,229.4 L1106.3,222.9 L1115.4,225.5 L1120.7,222.9 L1125.9,224.2 L1129.8,215.0 L1146.9,212.4 L1157.4,209.8 L1178.3,208.5 L1182.3,204.5 L1199.3,204.0 L1215.0,199.3 L1234.7,199.3 L1234.7,199.4 L1269.0,197.8 L1360.7,195.7 L1491.8,196.0 L1541.5,198.3 L1596.6,203.1 L1607.1,203.6 L1608.4,202.3 L1614.9,206.2 L1628.0,203.1 L1638.5,208.8 L1649.0,216.7 L1664.7,227.2 L1669.7,235.1 L1677.6,245.5 L1680.2,247.1 L1686.5,255.5 L1690.7,264.4 L1692.8,271.7 L1694.3,271.7 L1698.0,268.1 L1701.1,266.0 L1705.3,270.2 L1707.9,278.0 L1712.7,273.8 L1717.9,257.1 L1720.0,260.2 L1725.2,274.9 L1728.4,270.2 L1730.0,270.2 L1733.1,262.1 L1738.3,261.3 L1744.6,266.5 L1745.1,269.1 L1746.2,264.9 L1753.0,260.0 L1757.7,270.7 L1761.9,284.3 L1766.6,301.1 L1769.2,293.2 L1772.9,289.0 L1776.6,278.0 L1779.2,282.2 L1782.9,260.0 L1785.0,263.4 L1793.9,283.8 L1796.5,277.0 L1799.6,262.3 L1804.9,245.0 L1809.1,257.1 L1812.2,249.2 L1818.0,260.2 L1820.6,270.7 L1823.2,274.9 L1827.4,262.1 L1831.1,269.1 L1834.7,266.0 L1838.9,281.7 L1845.7,282.2 L1847.3,284.8 L1851.0,279.1 L1855.7,277.0 L1858.3,255.0 L1861.5,231.9 L1867.2,228.2 L1873.0,237.2 L1879.3,246.6 L1887.7,262.3 L1891.9,277.0 L1893.9,255.0 L1902.9,262.8 L1904.4,260.2 L1911.8,258.6 L1913.9,245.5 L1917.0,240.3 L1923.3,237.2 L1925.4,239.3 L1929.7,237.7 L1937.7,245.2 L1941.6,236.0 L1953.4,246.5 L1958.7,233.4 L1965.2,230.2 L1971.8,230.8 L1977.0,239.9 L1984.9,228.1 L1992.7,208.5 L1998.0,205.9 L2005.8,208.5 L2016.3,217.7 L2026.8,229.4 L2036.0,222.9 L2045.1,225.5 L2050.4,222.9 L2055.6,224.2 L2059.5,215.0 L2076.6,212.4 L2087.1,209.8 L2108.0,208.5 L2112.0,204.5 L2129.0,204.0 L2144.7,199.3 L2164.4,199.3 L2164.4,199.4 L2198.7,197.8 L2207.6,197.6 L2207.6,445.0 L2164.4,447.3 L2164.4,448.1 L2139.3,452.1 L2113.1,454.7 L2100.0,459.9 L2088.2,461.2 L2086.9,470.4 L2073.8,471.7 L2072.5,484.8 L2062.0,490.1 L2059.4,525.4 L2051.6,526.8 L2042.4,545.1 L2033.2,539.9 L2030.6,563.4 L2026.7,584.4 L2018.8,605.4 L2008.3,605.4 L2004.4,631.6 L2000.5,668.3 L1996.6,687.2 L1980.9,676.7 L1967.8,666.2 L1962.5,679.3 L1957.3,725.2 L1942.9,718.6 L1940.2,784.1 L1927.1,776.3 L1925.8,797.2 L1921.9,823.4 L1908.8,810.3 L1904.9,820.8 L1894.4,807.7 L1891.8,824.7 L1883.9,820.8 L1876.0,807.7 L1865.5,792.0 L1857.7,776.3 L1852.4,785.4 L1844.6,773.6 L1834.1,752.7 L1826.2,737.0 L1821.0,734.3 L1813.1,716.0 L1805.3,692.4 L1800.0,689.8 L1792.2,668.8 L1784.3,650.5 L1781.3,650.6 L1759.0,650.6 L1755.1,638.8 L1747.2,650.6 L1739.3,655.8 L1728.9,637.5 L1718.4,608.7 L1717.1,612.6 L1713.1,603.4 L1707.9,577.2 L1702.7,561.5 L1697.4,543.2 L1689.6,511.7 L1681.7,488.1 L1675.1,465.9 L1671.2,476.3 L1659.5,447.3 L1649.0,426.3 L1638.5,389.6 L1628.0,347.7 L1617.5,337.2 L1607.1,316.3 L1591.3,279.6 L1584.8,295.3 L1580.9,326.8 L1573.0,351.6 L1552.0,363.4 L1541.5,379.2 L1537.6,405.4 L1533.7,415.8 L1525.8,426.3 L1518.0,431.6 L1504.9,435.5 L1465.5,436.8 L1392.2,439.4 L1308.3,443.4 L1234.7,447.3 L1234.7,448.1 L1209.6,452.1 L1183.4,454.7 L1170.3,459.9 L1158.5,461.2 L1157.2,470.4 L1144.1,471.7 L1142.8,484.8 L1132.3,490.1 L1129.7,525.4 L1121.9,526.8 L1112.7,545.1 L1103.5,539.9 L1100.9,563.4 L1097.0,584.4 L1089.1,605.4 L1078.6,605.4 L1074.7,631.6 L1070.8,668.3 L1066.9,687.2 L1051.2,676.7 L1038.1,666.2 L1032.8,679.3 L1027.6,725.2 L1013.2,718.6 L1010.5,784.1 L997.4,776.3 L996.1,797.2 L992.2,823.4 L979.1,810.3 L975.2,820.8 L964.7,807.7 L962.1,824.7 L954.2,820.8 L946.3,807.7 L935.8,792.0 L928.0,776.3 L922.7,785.4 L914.9,773.6 L904.4,752.7 L896.5,737.0 L891.3,734.3 L883.4,716.0 L875.6,692.4 L870.3,689.8 L862.5,668.8 L854.6,650.5 L851.6,650.6 L829.3,650.6 L825.4,638.8 L817.5,650.6 L809.6,655.8 L799.2,637.5 L788.7,608.7 L787.4,612.6 L783.4,603.4 L778.2,577.2 L773.0,561.5 L767.7,543.2 L759.9,511.7 L752.0,488.1 L745.4,465.9 L741.5,476.3 L729.8,447.3 L719.3,426.3 L708.8,389.6 L698.3,347.7 L687.8,337.2 L677.4,316.3 L661.6,279.6 L655.1,295.3 L651.2,326.8 L643.3,351.6 L622.3,363.4 L611.8,379.2 L607.9,405.4 L604.0,415.8 L596.1,426.3 L588.3,431.6 L575.2,435.5 L535.8,436.8 L462.5,439.4 L378.6,443.4 L305.0,447.3Z"/></clipPath>
<g clip-path="url(#gc)" stroke="#d7d7d7" stroke-width="11" stroke-linejoin="miter"><path d="M305.0,447.3 L378.6,443.4 L462.5,439.4 L535.8,436.8 L575.2,435.5 L588.3,431.6 L596.1,426.3 L604.0,415.8 L607.9,405.4 L611.8,379.2 L622.3,363.4 L643.3,351.6 L651.2,326.8 L655.1,295.3 L661.6,279.6 L677.4,316.3 L687.8,337.2 L698.3,347.7 L708.8,389.6 L719.3,426.3 L729.8,447.3 L741.5,476.3 L745.4,465.9 L752.0,488.1 L759.9,511.7 L767.7,543.2 L773.0,561.5 L778.2,577.2 L783.4,603.4 L787.4,612.6 L788.7,608.7 L799.2,637.5 L809.6,655.8 L817.5,650.6 L825.4,638.8 L829.3,650.6 L851.6,650.6 L854.6,650.5 L862.5,668.8 L870.3,689.8 L875.6,692.4 L883.4,716.0 L891.3,734.3 L896.5,737.0 L904.4,752.7 L914.9,773.6 L922.7,785.4 L928.0,776.3 L935.8,792.0 L946.3,807.7 L954.2,820.8 L962.1,824.7 L964.7,807.7 L975.2,820.8 L979.1,810.3 L992.2,823.4 L996.1,797.2 L997.4,776.3 L1010.5,784.1 L1013.2,718.6 L1027.6,725.2 L1032.8,679.3 L1038.1,666.2 L1051.2,676.7 L1066.9,687.2 L1070.8,668.3 L1074.7,631.6 L1078.6,605.4 L1089.1,605.4 L1097.0,584.4 L1100.9,563.4 L1103.5,539.9 L1112.7,545.1 L1121.9,526.8 L1129.7,525.4 L1132.3,490.1 L1142.8,484.8 L1144.1,471.7 L1157.2,470.4 L1158.5,461.2 L1170.3,459.9 L1183.4,454.7 L1209.6,452.1 L1234.7,448.1 L1234.7,447.3 L1308.3,443.4 L1392.2,439.4 L1465.5,436.8 L1504.9,435.5 L1518.0,431.6 L1525.8,426.3 L1533.7,415.8 L1537.6,405.4 L1541.5,379.2 L1552.0,363.4 L1573.0,351.6 L1580.9,326.8 L1584.8,295.3 L1591.3,279.6 L1607.1,316.3 L1617.5,337.2 L1628.0,347.7 L1638.5,389.6 L1649.0,426.3 L1655.0,438.4"/><path d="M305.0,199.4 L339.3,197.8 L431.0,195.7 L562.1,196.0 L611.8,198.3 L666.9,203.1 L677.4,203.6 L678.7,202.3 L685.2,206.2 L698.3,203.1 L708.8,208.8 L719.3,216.7 L735.0,227.2 L740.0,235.1 L747.9,245.5 L750.5,247.1 L756.8,255.5 L761.0,264.4 L763.1,271.7 L764.6,271.7 L768.3,268.1 L771.4,266.0 L775.6,270.2 L778.2,278.0 L783.0,273.8 L788.2,257.1 L790.3,260.2 L795.5,274.9 L798.7,270.2 L800.3,270.2 L803.4,262.1 L808.6,261.3 L814.9,266.5 L815.4,269.1 L816.5,264.9 L823.3,260.0 L828.0,270.7 L832.2,284.3 L836.9,301.1 L839.5,293.2 L843.2,289.0 L846.9,278.0 L849.5,282.2 L853.2,260.0 L855.3,263.4 L864.2,283.8 L866.8,277.0 L869.9,262.3 L875.2,245.0 L879.4,257.1 L882.5,249.2 L888.3,260.2 L890.9,270.7 L893.5,274.9 L897.7,262.1 L901.4,269.1 L905.0,266.0 L909.2,281.7 L916.0,282.2 L917.6,284.8 L921.3,279.1 L926.0,277.0 L928.6,255.0 L931.8,231.9 L937.5,228.2 L943.3,237.2 L949.6,246.6 L958.0,262.3 L962.2,277.0 L964.2,255.0 L973.2,262.8 L974.7,260.2 L982.1,258.6 L984.2,245.5 L987.3,240.3 L993.6,237.2 L995.7,239.3 L1000.0,237.7 L1008.0,245.2 L1011.9,236.0 L1023.7,246.5 L1029.0,233.4 L1035.5,230.2 L1042.1,230.8 L1047.3,239.9 L1055.2,228.1 L1063.0,208.5 L1068.3,205.9 L1076.1,208.5 L1086.6,217.7 L1097.1,229.4 L1106.3,222.9 L1115.4,225.5 L1120.7,222.9 L1125.9,224.2 L1129.8,215.0 L1146.9,212.4 L1157.4,209.8 L1178.3,208.5 L1182.3,204.5 L1199.3,204.0 L1215.0,199.3 L1234.7,199.3 L1234.7,199.4 L1269.0,197.8 L1360.7,195.7 L1491.8,196.0 L1541.5,198.3 L1596.6,203.1 L1607.1,203.6 L1608.4,202.3 L1614.9,206.2 L1628.0,203.1 L1638.5,208.8 L1649.0,216.7 L1664.7,227.2 L1669.7,235.1 L1677.6,245.5 L1680.2,247.1 L1686.5,255.5 L1690.7,264.4 L1692.8,271.7 L1694.3,271.7 L1698.0,268.1 L1701.1,266.0 L1705.3,270.2 L1707.9,278.0 L1712.7,273.8 L1717.9,257.1 L1720.0,260.2 L1725.2,274.9 L1728.4,270.2 L1730.0,270.2 L1733.1,262.1 L1738.3,261.3 L1744.6,266.5 L1745.1,269.1 L1746.2,264.9 L1753.0,260.0 L1757.7,270.7 L1761.9,284.3 L1766.6,301.1 L1769.2,293.2 L1772.9,289.0 L1776.6,278.0 L1779.2,282.2 L1782.9,260.0 L1785.0,263.4 L1793.9,283.8 L1796.5,277.0 L1799.6,262.3 L1804.9,245.0 L1809.1,257.1 L1812.2,249.2 L1818.0,260.2 L1820.6,270.7 L1823.2,274.9 L1827.4,262.1 L1831.1,269.1 L1834.7,266.0 L1838.9,281.7 L1845.7,282.2 L1847.3,284.8 L1851.0,279.1 L1855.7,277.0 L1858.3,255.0 L1861.5,231.9 L1867.2,228.2 L1873.0,237.2 L1879.3,246.6 L1887.7,262.3 L1891.9,277.0 L1893.9,255.0 L1902.9,262.8 L1904.4,260.2 L1911.8,258.6 L1913.9,245.5 L1917.0,240.3 L1923.3,237.2 L1925.4,239.3 L1929.7,237.7 L1937.7,245.2 L1941.6,236.0 L1953.4,246.5 L1958.7,233.4 L1965.2,230.2 L1971.8,230.8 L1977.0,239.9 L1984.9,228.1 L1992.7,208.5 L1998.0,205.9 L2005.8,208.5 L2016.3,217.7 L2026.8,229.4 L2036.0,222.9 L2045.1,225.5 L2050.4,222.9 L2055.6,224.2 L2059.5,215.0 L2076.6,212.4 L2087.1,209.8 L2108.0,208.5 L2112.0,204.5 L2129.0,204.0 L2144.7,199.3 L2164.4,199.3 L2164.4,199.4 L2198.7,197.8 L2207.6,197.6"/></g>
<path stroke="#d7d7d7" stroke-width="6.2" d="M1500.0,432.9 L1504.9,432.8 L1518.0,428.8 L1525.8,423.6 L1533.7,413.1 L1537.6,402.6 L1541.5,376.4 L1552.0,360.7 L1573.0,348.9 L1580.9,324.0 L1584.8,292.6 L1591.3,276.8 L1607.1,313.5 L1617.5,334.5 L1628.0,345.0 L1638.5,386.9 L1649.0,423.6 L1659.5,444.5 L1671.2,473.6 L1675.1,463.1 L1681.7,485.4 L1689.6,509.0 L1697.4,540.4 L1702.7,558.8 L1707.9,574.5 L1713.1,600.7 L1717.1,609.9 L1718.4,605.9 L1728.9,634.8 L1734.0,643.7 L1734.6,641.3 L1750.3,667.5 L1753.0,643.9 L1763.4,645.2 L1768.7,650.5 L1779.2,674.1 L1784.4,668.8 L1791.0,661.0 L1797.5,679.3 L1802.7,688.5 L1810.6,700.3 L1818.5,721.2 L1823.7,731.7 L1829.0,735.6 L1838.1,755.3 L1847.3,773.6 L1853.8,782.8 L1857.8,763.2 L1868.3,786.8 L1878.7,802.5 L1885.3,818.2 L1890.5,820.8 L1894.5,794.6 L1906.3,818.2 L1907.6,794.6 L1920.7,820.8 L1925.9,765.8 L1939.0,781.5 L1940.3,712.1 L1956.0,721.2 L1960.0,668.8 L1965.2,657.0 L1978.3,674.1 L1980.9,668.8 L1995.4,685.9 L2000.6,640.0 L2000.9,601.0 L2004.8,598.4 L2015.3,604.9 L2016.6,582.7 L2021.8,577.4 L2025.7,584.0 L2028.4,532.9 L2033.6,530.3 L2042.8,543.4 L2051.9,519.8 L2058.5,522.4 L2059.8,483.1 L2065.0,479.2 L2070.3,464.8 L2083.4,460.9 L2088.6,456.9 L2109.6,450.4 L2135.8,447.8 L2162.0,445.1 L2207.5,442.5"/>
<path stroke="#ff00ff" stroke-width="5" d="M305.0,240.8 L313.1,238.2 L318.3,233.7 L334.1,230.3 L352.4,228.5 L378.6,225.9 L417.9,223.2 L462.5,222.7 L509.6,221.9 L535.8,221.1 L575.2,220.6 L601.4,220.4 L611.8,222.7 L622.3,224.0 L632.8,221.1 L648.5,219.3 L656.4,220.4 L666.9,224.5 L677.4,229.8 L687.8,236.3 L698.3,242.9 L703.6,250.8 L707.5,263.9 L711.4,269.1 L714.0,267.8 L719.3,280.9 L723.2,284.8 L729.8,303.2 L737.6,318.9 L742.9,334.6 L745.5,338.5 L749.4,337.2 L753.4,347.7 L761.2,360.8 L769.1,372.6 L773.0,371.3 L779.6,375.2 L787.9,398.5 L795.7,424.7 L801.0,429.9 L804.9,423.4 L811.4,443.0 L817.5,450.1 L822.7,463.2 L828.0,469.8 L830.6,465.9 L837.2,460.6 L841.1,465.9 L847.6,481.6 L852.9,476.3 L859.4,485.5 L864.7,490.8 L869.9,501.2 L872.5,501.2 L875.2,484.2 L880.4,494.7 L885.6,489.4 L890.9,496.0 L898.7,473.7 L904.0,488.1 L910.5,498.6 L914.5,497.3 L917.1,477.7 L923.6,467.2 L932.8,456.7 L936.7,459.3 L939.4,448.8 L943.3,459.3 L947.2,454.1 L951.2,434.4 L955.1,448.8 L962.9,443.6 L966.9,447.5 L972.1,461.9 L974.7,465.9 L980.0,459.3 L983.9,460.6 L987.8,464.5 L990.5,455.4 L995.7,455.4 L1000.9,446.2 L1007.5,437.0 L1014.0,444.9 L1021.9,437.0 L1025.8,435.7 L1029.8,427.9 L1031.1,420.0 L1030.3,411.6 L1036.8,397.2 L1042.1,393.2 L1043.4,380.1 L1048.6,390.6 L1051.2,385.4 L1055.2,393.2 L1059.1,394.5 L1066.9,388.0 L1070.9,377.5 L1073.5,365.7 L1078.7,357.9 L1081.4,360.5 L1090.5,357.9 L1098.4,346.1 L1103.6,338.2 L1104.9,319.9 L1114.1,308.1 L1123.3,306.8 L1129.8,295.0 L1133.8,292.3 L1144.3,292.3 L1150.8,277.9 L1153.4,275.3 L1163.9,274.0 L1170.5,259.6 L1188.8,258.3 L1194.0,253.0 L1201.9,250.4 L1204.5,246.5 L1212.4,246.5 L1230.7,239.9 L1234.7,239.4 L1234.7,240.8 L1242.8,238.2 L1248.0,233.7 L1263.8,230.3 L1282.1,228.5 L1308.3,225.9 L1347.6,223.2 L1392.2,222.7 L1439.3,221.9 L1465.5,221.1 L1504.9,220.6 L1531.1,220.4 L1541.5,222.7 L1552.0,224.0 L1562.5,221.1 L1578.2,219.3 L1586.1,220.4 L1596.6,224.5 L1607.1,229.8 L1617.5,236.3 L1628.0,242.9 L1633.3,250.8 L1637.2,263.9 L1641.1,269.1 L1643.7,267.8 L1649.0,280.9 L1652.9,284.8 L1659.5,303.2 L1667.3,318.9 L1672.6,334.6 L1675.2,338.5 L1679.1,337.2 L1683.1,347.7 L1690.9,360.8 L1698.8,372.6 L1702.7,371.3 L1709.3,375.2 L1717.6,398.5 L1725.4,424.7 L1730.7,429.9 L1734.6,423.4 L1741.1,443.0 L1747.2,450.1 L1752.4,463.2 L1757.7,469.8 L1760.3,465.9 L1766.9,460.6 L1770.8,465.9 L1777.3,481.6 L1782.6,476.3 L1789.1,485.5 L1794.4,490.8 L1799.6,501.2 L1802.2,501.2 L1804.9,484.2 L1810.1,494.7 L1815.3,489.4 L1820.6,496.0 L1828.4,473.7 L1833.7,488.1 L1840.2,498.6 L1844.2,497.3 L1846.8,477.7 L1853.3,467.2 L1862.5,456.7 L1866.4,459.3 L1869.1,448.8 L1873.0,459.3 L1876.9,454.1 L1880.9,434.4 L1884.8,448.8 L1892.6,443.6 L1896.6,447.5 L1901.8,461.9 L1904.4,465.9 L1909.7,459.3 L1913.6,460.6 L1917.5,464.5 L1920.2,455.4 L1925.4,455.4 L1930.6,446.2 L1937.2,437.0 L1943.7,444.9 L1951.6,437.0 L1955.5,435.7 L1959.5,427.9 L1960.8,420.0 L1960.0,411.6 L1966.5,397.2 L1971.8,393.2 L1973.1,380.1 L1978.3,390.6 L1980.9,385.4 L1984.9,393.2 L1988.8,394.5 L1996.6,388.0 L2000.6,377.5 L2003.2,365.7 L2008.4,357.9 L2011.1,360.5 L2020.2,357.9 L2028.1,346.1 L2033.3,338.2 L2034.6,319.9 L2043.8,308.1 L2053.0,306.8 L2059.5,295.0 L2063.5,292.3 L2074.0,292.3 L2080.5,277.9 L2083.1,275.3 L2093.6,274.0 L2100.2,259.6 L2118.5,258.3 L2123.7,253.0 L2131.6,250.4 L2134.2,246.5 L2142.1,246.5 L2160.4,239.9 L2164.4,239.4 L2164.4,240.8 L2172.5,238.2 L2177.7,233.7 L2193.5,230.3 L2207.6,228.9"/>
<path stroke="#0000ff" stroke-width="13" stroke-linejoin="miter" stroke-miterlimit="10" d="M303.0,412.4 L385.0,410.1 L479.0,408.0 L513.0,408.1 L534.6,410.6 L578.0,411.5 L598.6,414.5 L613.6,421.5 L636.0,439.6 L645.2,446.4 L647.7,452.1 L650.3,457.1 L652.8,461.6 L655.4,463.4 L657.9,466.1 L660.5,469.7 L663.0,476.2 L665.6,481.5 L668.1,483.8 L670.7,489.8 L673.2,492.9 L675.8,496.2 L678.3,501.9 L680.9,505.5 L683.4,508.6 L686.0,515.7 L688.5,523.5 L691.0,527.8 L693.6,532.2 L696.1,535.6 L698.7,543.6 L701.2,549.7 L703.8,553.7 L706.3,560.1 L708.9,568.3 L711.4,572.5 L714.0,577.4 L716.5,582.7 L719.1,585.2 L721.6,589.2 L724.2,597.8 L726.7,603.5 L729.3,613.0 L731.8,618.8 L734.3,627.3 L736.9,632.9 L739.4,643.0 L742.0,646.6 L744.5,651.4 L747.1,655.9 L749.6,664.4 L752.2,670.3 L754.7,676.5 L757.3,682.2 L759.0,686.1"/>
<path fill="#0000ff" stroke="none" d="M742.6,638.8 L752.0,655.5 L756.2,665.0 L759.3,674.4 L760.4,671.3 L763.5,671.3 L770.9,649.8 L776.1,665.0 L783.4,684.9 L786.6,665.0 L787.1,651.3 L799.7,637.2 L803.4,650.3 L811.7,625.1 L817.0,640.9 L824.3,651.3 L826.9,657.1 L829.5,655.5 L833.2,625.1 L835.8,628.3 L841.1,600.0 L852.1,600.0 L851.6,652.4 L849.5,684.9 L842.6,662.9 L839.5,687.0 L831.6,680.2 L828.0,681.7 L819.1,674.4 L814.4,668.1 L812.8,675.4 L808.6,689.1 L802.8,703.7 L798.1,688.0 L792.9,706.9 L788.7,716.8 L783.4,706.9 L779.8,712.1 L775.1,702.7 L769.8,690.1 L760.4,702.7 L751.0,690.1 L744.7,673.4 L740.5,662.9Z"/>
<path stroke="#0000ff" stroke-width="13" stroke-linejoin="miter" stroke-miterlimit="10" d="M846.6,606.0 L849.5,462.0 L856.0,470.0 L860.9,482.4 L865.9,508.6 L871.4,538.8 L890.3,623.6 L901.0,672.0 L909.1,708.5 L913.1,731.7 L922.7,747.4 L935.8,763.2 L949.0,786.8 L956.8,801.2 L959.4,794.6 L964.7,793.3 L972.5,797.2 L988.3,803.8 L1004.0,820.8 L1014.5,831.3 L1027.6,841.8 L1038.1,845.7 L1043.3,797.2 L1048.5,744.8 L1053.8,705.5 L1059.0,666.2 L1059.0,649.9 L1064.2,647.3 L1086.5,668.3 L1094.3,657.8 L1100.9,597.5 L1104.8,592.3 L1133.6,602.7 L1141.5,589.6 L1152.0,589.6 L1159.9,563.4 L1170.3,547.7 L1183.4,541.2 L1188.7,508.4 L1196.5,503.2 L1212.3,500.5 L1213.6,469.1 L1225.4,466.5 L1230.6,441.6 L1235.8,435.6 L1251.6,431.6 L1272.5,429.0 L1275.2,414.6 L1277.8,414.3 L1380.0,413.2 L1508.1,413.2 L1531.4,414.9 L1554.7,418.4 L1578.0,424.3 L1580.5,425.5 L1583.1,426.7 L1585.6,427.7 L1588.2,429.2 L1590.7,430.5 L1593.3,431.5 L1595.8,432.5 L1598.3,434.3 L1600.9,435.8 L1603.4,437.5 L1606.0,440.2 L1608.5,442.3 L1611.1,444.3 L1613.6,446.3 L1616.2,449.8 L1618.7,454.9 L1621.3,455.2 L1623.8,461.1 L1626.4,462.3 L1628.9,464.9 L1631.5,466.8 L1634.0,469.4 L1636.6,474.0 L1639.1,475.6 L1641.6,484.5 L1644.2,486.6 L1646.7,493.0 L1649.3,495.0 L1651.8,501.9 L1654.4,505.8 L1656.9,512.8 L1659.5,513.0 L1662.0,519.6 L1664.6,525.6 L1667.1,528.9 L1669.7,530.5 L1672.2,531.5 L1674.8,542.3 L1677.3,545.3 L1679.9,547.3 L1682.4,551.4 L1684.9,554.1 L1687.5,551.3 L1690.0,562.9 L1692.6,567.5 L1695.1,569.3 L1697.7,565.5 L1700.2,573.0 L1702.8,572.4 L1705.3,574.2 L1707.9,578.5 L1710.4,575.4 L1713.0,579.0 L1714.0,579.9"/>
<path stroke="#0000ff" stroke-width="16" stroke-linejoin="miter" stroke-miterlimit="10" d="M1626.0,465.0 L1626.9,465.9 L1629.5,467.8 L1632.0,470.4 L1634.6,475.0 L1637.1,476.6 L1639.6,485.5 L1642.2,487.6 L1644.7,494.0 L1647.3,496.0 L1649.8,502.9 L1652.4,506.8 L1654.9,513.8 L1657.5,514.0 L1660.0,520.6 L1662.6,526.6 L1665.1,529.9 L1667.7,531.5 L1670.2,532.5 L1672.8,543.3 L1675.3,546.3 L1677.9,548.3 L1680.4,552.4 L1682.9,555.1 L1685.5,552.3 L1688.0,563.9 L1690.6,568.5 L1693.1,570.3 L1695.7,566.5 L1698.2,574.0 L1700.8,573.4 L1703.3,575.2 L1705.9,579.5 L1708.4,576.4 L1710.0,578.6"/>
<path fill="#0000ff" stroke="none" d="M1705.7,556.8 L1715.2,571.4 L1720.4,576.7 L1724.6,590.3 L1729.9,600.5 L1734.5,609.7 L1736.8,606.3 L1744.8,613.7 L1746.5,611.4 L1756.7,624.5 L1758.9,616.5 L1774.3,611.4 L1778.8,627.9 L1781.6,619.9 L1789.0,639.2 L1808.3,630.2 L1815.1,630.7 L1831.0,610.3 L1834.4,619.9 L1839.0,617.7 L1848.0,601.8 L1852.0,600.6 L1853.7,587.0 L1857.1,574.0 L1863.9,595.5 L1867.3,585.3 L1871.3,587.6 L1876.4,579.1 L1881.0,585.9 L1888.9,570.0 L1890.2,565.2 L1895.2,581.9 L1904.8,579.6 L1912.2,583.6 L1918.2,568.8 L1924.5,560.4 L1928.7,566.0 L1936.3,564.6 L1940.5,558.3 L1950.3,556.9 L1954.5,546.4 L1965.7,519.9 L1968.5,520.6 L1981.1,503.1 L1995.0,510.1 L1997.8,498.2 L2002.0,497.5 L2010.4,497.5 L2017.4,494.7 L2021.6,483.5 L2029.3,471.0 L2037.0,469.6 L2048.1,459.1 L2060.0,450.0 L2087.3,450.0 L2073.3,463.3 L2064.9,464.7 L2055.1,471.0 L2048.1,478.7 L2038.4,484.9 L2030.7,498.2 L2025.8,505.9 L2013.2,515.7 L2008.3,514.3 L2003.4,522.7 L1996.4,526.2 L1990.1,524.1 L1988.1,536.0 L1979.7,530.4 L1972.7,543.6 L1965.7,556.2 L1958.7,567.4 L1951.7,570.2 L1944.7,577.2 L1937.7,596.8 L1930.7,582.8 L1925.2,589.8 L1921.7,605.8 L1907.1,598.4 L1895.7,609.7 L1890.0,603.5 L1881.5,608.6 L1875.3,608.6 L1871.3,618.8 L1866.2,614.3 L1858.3,627.9 L1853.7,638.1 L1848.6,642.1 L1842.4,674.4 L1833.9,648.3 L1827.6,638.1 L1819.7,648.3 L1815.1,659.7 L1808.3,652.3 L1800.9,682.4 L1795.8,664.2 L1791.9,658.0 L1786.8,662.5 L1783.3,659.7 L1779.9,668.8 L1773.1,649.5 L1767.5,637.5 L1760.1,643.8 L1748.7,636.4 L1743.6,642.6 L1736.8,631.9 L1730.0,631.3 L1725.6,621.8 L1721.4,618.6 L1716.2,613.4 L1711.0,598.7 L1705.7,586.1Z"/>
<path stroke="#0000ff" stroke-width="13" stroke-linejoin="miter" stroke-miterlimit="10" d="M2046.7,468.7 L2057.2,460.9 L2070.3,449.1 L2083.4,442.5 L2099.1,438.6 L2114.8,436.0 L2130.5,430.7 L2148.9,425.5 L2175.0,420.2 L2193.4,417.6 L2207.5,416.3"/>
<path stroke="#ff00ff" stroke-width="5" d="M836.0,461.5 L837.2,460.6 L841.1,465.9 L847.6,481.6 L852.9,476.3 L853.0,476.5"/>
<path stroke="#00ffff" stroke-width="5" d="M305.0,412.4 L385.0,410.3 L479.0,408.6 L513.0,408.9 L534.6,411.0 L578.0,412.5 L598.6,417.3 L608.0,418.2 L617.3,423.8 L626.6,430.3 L633.1,437.8 L643.4,439.2 L650.8,447.1 L659.2,456.4 L663.9,463.9 L666.7,471.3 L671.8,470.4 L677.7,479.9 L683.0,489.4 L687.7,498.8 L690.3,510.3 L691.4,494.6 L693.5,488.3 L697.7,484.6 L703.9,489.4 L709.2,499.8 L713.4,511.4 L718.6,525.0 L723.9,538.6 L728.0,551.2 L731.2,563.8 L734.3,575.3 L733.6,572.0 L740.2,590.3 L744.1,600.8 L745.4,587.7 L752.0,603.4 L755.9,616.5 L761.2,598.2 L766.4,577.2 L771.6,566.8 L780.8,598.2 L783.4,579.9 L787.4,578.5 L788.7,590.3 L793.9,574.6 L799.2,585.1 L804.4,613.9 L807.0,606.1 L812.3,604.7 L817.5,619.2 L821.4,625.7 L830.6,611.3 L835.8,624.4 L839.8,579.9 L845.0,603.4 L849.0,556.3 L850.3,520.0 L851.2,498.6 L851.6,478.1 L855.5,490.0 L858.6,467.2 L863.8,474.1 L868.5,489.9 L873.5,507.3 L877.0,520.0 L880.4,535.3 L891.5,593.0 L901.4,645.4 L908.5,682.0 L912.5,702.5 L918.4,697.8 L923.6,679.4 L926.3,653.2 L931.5,648.0 L936.7,629.6 L940.7,637.5 L948.5,650.6 L957.7,679.4 L960.3,637.5 L962.9,621.8 L968.2,629.6 L972.1,620.5 L978.7,624.4 L983.9,613.9 L989.2,615.2 L995.7,627.0 L1006.2,653.2 L1008.8,644.1 L1015.4,657.2 L1019.3,654.5 L1024.5,658.5 L1029.8,669.0 L1036.3,663.7 L1040.3,629.6 L1045.5,593.0 L1053.4,569.4 L1058.6,537.9 L1062.5,535.3 L1071.7,548.4 L1084.8,562.8 L1091.4,562.8 L1095.3,545.8 L1100.0,509.1 L1103.5,495.3 L1112.7,494.0 L1132.3,503.2 L1144.1,488.8 L1152.0,488.8 L1170.3,475.6 L1183.4,471.7 L1188.7,456.0 L1212.3,454.7 L1214.9,445.5 L1224.1,444.2 L1229.3,427.2 L1241.1,419.3 L1272.5,418.8"/>
</g>
<g stroke="#000" shape-rendering="crispEdges" fill="none">
<path stroke-width="1" d="M304.5,1047 V1118"/>
<path stroke-width="3" d="M383.5,1047 V1118"/>
<path stroke-width="1" d="M462.5,1047 V1118"/>
<path stroke-width="1" d="M533.5,1047 V1118"/>
<path stroke-width="1" d="M612.5,1047 V1118"/>
<path stroke-width="1" d="M688.5,1047 V1118"/>
<path stroke-width="1" d="M767.5,1047 V1118"/>
<path stroke-width="1" d="M844.5,1047 V1118"/>
<path stroke-width="1" d="M923.5,1047 V1118"/>
<path stroke-width="1" d="M1002.5,1047 V1118"/>
<path stroke-width="1" d="M1078.5,1047 V1118"/>
<path stroke-width="1" d="M1157.5,1047 V1118"/>
<path stroke-width="1" d="M1234.5,1047 V1118"/>
<path stroke-width="3" d="M1313.5,1047 V1118"/>
<path stroke-width="1" d="M1391.5,1047 V1118"/>
<path stroke-width="1" d="M1463.5,1047 V1118"/>
<path stroke-width="1" d="M1542.5,1047 V1118"/>
<path stroke-width="1" d="M1618.5,1047 V1118"/>
<path stroke-width="1" d="M1697.5,1047 V1118"/>
<path stroke-width="1" d="M1774.5,1047 V1118"/>
<path stroke-width="1" d="M1852.5,1047 V1118"/>
<path stroke-width="1" d="M1931.5,1047 V1118"/>
<path stroke-width="1" d="M2008.5,1047 V1118"/>
<path stroke-width="1" d="M2087.5,1047 V1118"/>
<path stroke-width="1" d="M2163.5,1047 V1118"/>
</g>
<g fill="#000" stroke="#000" stroke-width="0.35" opacity="0.999" text-rendering="geometricPrecision">
<text x="304.6" y="86.8" font-size="54.8" textLength="1397.5" lengthAdjust="spacingAndGlyphs" stroke-width="1.0">Maavesivarasto, 49yrtoh Yrttikoski P koko alue 305 km²</text>
<text x="193.3" y="1059.2" font-size="54.6" textLength="31.4" lengthAdjust="spacingAndGlyphs" stroke-width="1.0">0</text>
<text x="177.6" y="974.4" font-size="54.6" textLength="62.9" lengthAdjust="spacingAndGlyphs" stroke-width="1.0">20</text>
<text x="177.6" y="889.5" font-size="54.6" textLength="62.9" lengthAdjust="spacingAndGlyphs" stroke-width="1.0">40</text>
<text x="177.6" y="804.7" font-size="54.6" textLength="62.9" lengthAdjust="spacingAndGlyphs" stroke-width="1.0">60</text>
<text x="177.6" y="719.9" font-size="54.6" textLength="62.9" lengthAdjust="spacingAndGlyphs" stroke-width="1.0">80</text>
<text x="161.8" y="635.0" font-size="54.6" textLength="94.3" lengthAdjust="spacingAndGlyphs" stroke-width="1.0">100</text>
<text x="161.8" y="550.2" font-size="54.6" textLength="94.3" lengthAdjust="spacingAndGlyphs" stroke-width="1.0">120</text>
<text x="161.8" y="465.4" font-size="54.6" textLength="94.3" lengthAdjust="spacingAndGlyphs" stroke-width="1.0">140</text>
<text x="161.8" y="380.6" font-size="54.6" textLength="94.3" lengthAdjust="spacingAndGlyphs" stroke-width="1.0">160</text>
<text x="161.8" y="295.7" font-size="54.6" textLength="94.3" lengthAdjust="spacingAndGlyphs" stroke-width="1.0">180</text>
<text x="161.8" y="210.9" font-size="54.6" textLength="94.3" lengthAdjust="spacingAndGlyphs" stroke-width="1.0">200</text>
<text x="161.8" y="126.1" font-size="54.6" textLength="94.3" lengthAdjust="spacingAndGlyphs" stroke-width="1.0">220</text>
<text x="318.2" y="1120.0" font-size="35.5" xml:space="preserve">XII</text>
<text x="397.2" y="1120.0" font-size="35.5" xml:space="preserve"> I</text>
<text x="476.1" y="1120.0" font-size="35.5" xml:space="preserve">II</text>
<text x="547.4" y="1120.0" font-size="35.5" xml:space="preserve">III</text>
<text x="626.4" y="1120.0" font-size="35.5" xml:space="preserve">IV</text>
<text x="702.8" y="1120.0" font-size="35.5" xml:space="preserve"> V</text>
<text x="781.8" y="1120.0" font-size="35.5" xml:space="preserve">VI</text>
<text x="858.2" y="1120.0" font-size="35.5" xml:space="preserve">VII</text>
<text x="928.4" y="1120.0" font-size="35.5" xml:space="preserve">VIII</text>
<text x="1016.1" y="1120.0" font-size="35.5" xml:space="preserve">IX</text>
<text x="1092.5" y="1120.0" font-size="35.5" xml:space="preserve"> X</text>
<text x="1171.4" y="1120.0" font-size="35.5" xml:space="preserve">XI</text>
<text x="1247.9" y="1120.0" font-size="35.5" xml:space="preserve">XII</text>
<text x="1326.8" y="1120.0" font-size="35.5" xml:space="preserve"> I</text>
<text x="1405.8" y="1120.0" font-size="35.5" xml:space="preserve">II</text>
<text x="1477.1" y="1120.0" font-size="35.5" xml:space="preserve">III</text>
<text x="1556.0" y="1120.0" font-size="35.5" xml:space="preserve">IV</text>
<text x="1632.5" y="1120.0" font-size="35.5" xml:space="preserve"> V</text>
<text x="1711.4" y="1120.0" font-size="35.5" xml:space="preserve">VI</text>
<text x="1787.8" y="1120.0" font-size="35.5" xml:space="preserve">VII</text>
<text x="1858.1" y="1120.0" font-size="35.5" xml:space="preserve">VIII</text>
<text x="1945.7" y="1120.0" font-size="35.5" xml:space="preserve">IX</text>
<text x="2022.1" y="1120.0" font-size="35.5" xml:space="preserve"> X</text>
<text x="2101.1" y="1120.0" font-size="35.5" xml:space="preserve">XI</text>
<text x="2177.5" y="1120.0" font-size="35.5" xml:space="preserve">XII</text>
<text x="386" y="1164.0" font-size="33.5" textLength="79" lengthAdjust="spacingAndGlyphs">2025</text>
<text x="1315.8" y="1164.0" font-size="33.5" textLength="79" lengthAdjust="spacingAndGlyphs">2026</text>
<text x="2224.5" y="1139.5" font-size="35.5">18-Dec-2025 15:30 WSFS-O</text>
<text transform="translate(99.3,980.5) rotate(-90)" font-size="52.5" textLength="677" lengthAdjust="spacingAndGlyphs">Maavesivarasto / Soil moisture</text>
<text transform="translate(99.3,264) rotate(-90)" font-size="52.5" textLength="86" lengthAdjust="spacingAndGlyphs">mm</text>
<text x="2223.3" y="83.5" font-size="35.4">Simuloitu historia ja</text>
<text x="2223.3" y="118.1" font-size="35.4">keskiennuste</text>
<text x="2223.3" y="196.6" font-size="35.4">Simuloitujen arvojen</text>
<text x="2223.3" y="231.8" font-size="35.4">vaihteluväli 1962-2024</text>
<text x="2223.3" y="309.4" font-size="35.4">Keskimääräinen arvo</text>
<text x="2223.3" y="388.0" font-size="35.4">Ennusteen vaihteluväli</text>
<text x="2223.3" y="464.8" font-size="35.4">5-95% Vaihteluväli</text>
<text x="2223.3" y="542.8" font-size="35.4">25-75% Vaihteluväli</text>
<text x="2223.3" y="621.0" font-size="35.4">Korjaamaton</text>
<text x="2223.3" y="698.8" font-size="35.4">Ennusteen alku</text>
</g>
<g shape-rendering="crispEdges" fill="none">
<path stroke="#0000ff" stroke-width="13" d="M2223,141.5 H2541"/>
<path stroke="#d7d7d7" stroke-width="13" d="M2223,254.6 H2541"/>
<path stroke="#ff00ff" stroke-width="4.5" d="M2223,332.5 H2541"/>
<path stroke="#ffff00" stroke-width="12.5" d="M2223,409.4 H2541"/>
<path stroke="#ff0000" stroke-width="12.5" d="M2223,487.4 H2541"/>
<path stroke="#00ff00" stroke-width="12.5" d="M2223,565.4 H2541"/>
<path stroke="#00ffff" stroke-width="5" d="M2223,643.4 H2541"/>
<path stroke="#00ffff" stroke-width="10" stroke-dasharray="14.15 14.15" d="M2223,720.9 H2541"/>
</g>
</svg>
</body></html>
